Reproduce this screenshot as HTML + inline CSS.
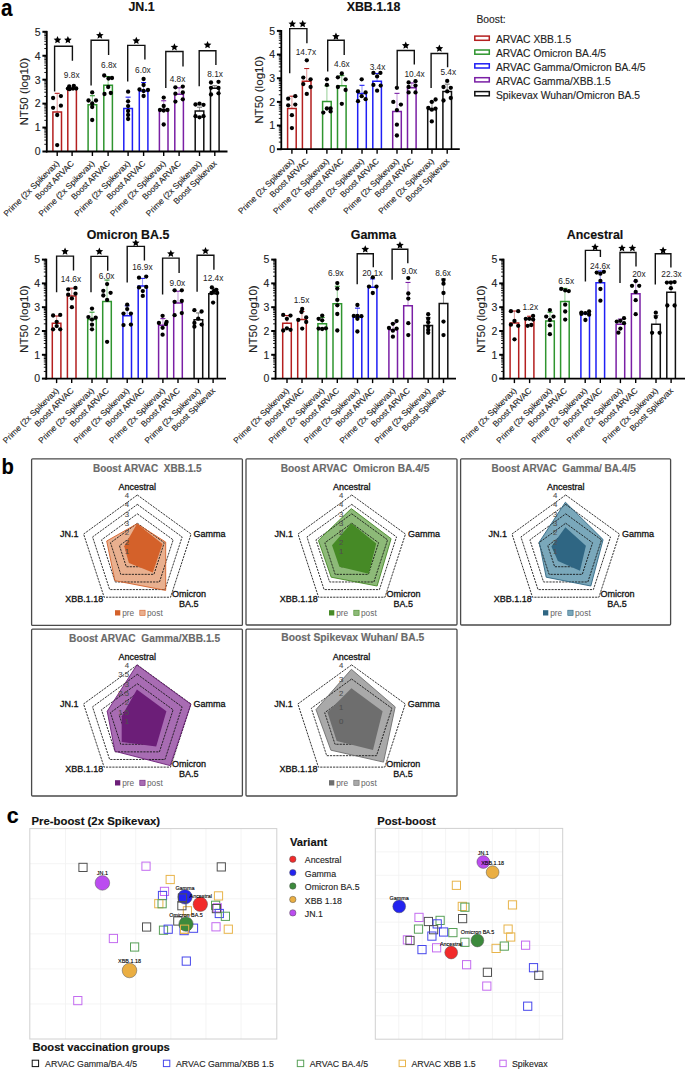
<!DOCTYPE html>
<html><head><meta charset="utf-8"><style>
html,body{margin:0;padding:0;background:#fff;}
svg{display:block;}
svg text{font-family:"Liberation Sans", sans-serif;}
</style></head><body>
<svg width="685" height="1070" viewBox="0 0 685 1070">
<rect width="685" height="1070" fill="#fff"/>
<text x="141.5" y="11.0" font-family="'Liberation Sans', sans-serif" font-size="12.4" font-weight="bold" text-anchor="middle" fill="#111" stroke="#111" stroke-width="0.15">JN.1</text>
<text transform="translate(28.2,91.7) rotate(-90)" font-family="'Liberation Sans', sans-serif" font-size="11.6" text-anchor="middle" fill="#222" stroke="#222" stroke-width="0.12">NT50 (log10)</text>
<line x1="57.20" y1="112.00" x2="57.20" y2="93.33" stroke="#e3a3a3" stroke-width="1.1"/>
<line x1="54.70" y1="93.33" x2="59.70" y2="93.33" stroke="#b41f1f" stroke-width="1.1"/>
<path d="M52.90 151.50 V112.00 H61.50 V151.50" fill="none" stroke="#b41f1f" stroke-width="1.5"/>
<circle cx="53.10" cy="98.00" r="2.15" fill="#000"/>
<circle cx="60.90" cy="96.10" r="2.15" fill="#000"/>
<circle cx="53.10" cy="107.80" r="2.15" fill="#000"/>
<circle cx="60.90" cy="105.70" r="2.15" fill="#000"/>
<circle cx="57.20" cy="115.00" r="2.15" fill="#000"/>
<circle cx="57.20" cy="145.10" r="2.15" fill="#000"/>
<path d="M67.80 151.50 V88.78 H76.40 V151.50" fill="none" stroke="#b41f1f" stroke-width="1.5"/>
<circle cx="69.20" cy="86.50" r="2.15" fill="#000"/>
<circle cx="73.80" cy="85.80" r="2.15" fill="#000"/>
<circle cx="76.20" cy="88.50" r="2.15" fill="#000"/>
<circle cx="69.60" cy="89.20" r="2.15" fill="#000"/>
<circle cx="73.00" cy="88.60" r="2.15" fill="#000"/>
<circle cx="67.90" cy="88.60" r="2.15" fill="#000"/>
<path d="M54.60 91.40 V46.20 H72.40 V60.80" fill="none" stroke="#111" stroke-width="1.4"/>
<polygon points="57.50,36.10 58.61,38.58 61.30,38.86 59.29,40.68 59.85,43.34 57.50,41.98 55.15,43.34 55.71,40.68 53.70,38.86 56.39,38.58" fill="#000"/>
<polygon points="67.90,36.10 69.01,38.58 71.70,38.86 69.69,40.68 70.25,43.34 67.90,41.98 65.55,43.34 66.11,40.68 64.10,38.86 66.79,38.58" fill="#000"/>
<text x="71.7" y="77.5" font-family="'Liberation Sans', sans-serif" font-size="8.3" text-anchor="middle" fill="#222">9.8x</text>
<line x1="92.40" y1="104.82" x2="92.40" y2="95.72" stroke="#9fd39f" stroke-width="1.1"/>
<line x1="89.90" y1="95.72" x2="94.90" y2="95.72" stroke="#2f952f" stroke-width="1.1"/>
<path d="M88.10 151.50 V104.82 H96.70 V151.50" fill="none" stroke="#2f952f" stroke-width="1.5"/>
<circle cx="92.20" cy="92.40" r="2.15" fill="#000"/>
<circle cx="88.50" cy="100.50" r="2.15" fill="#000"/>
<circle cx="96.00" cy="100.50" r="2.15" fill="#000"/>
<circle cx="92.20" cy="103.50" r="2.15" fill="#000"/>
<circle cx="92.20" cy="107.00" r="2.15" fill="#000"/>
<circle cx="92.20" cy="120.00" r="2.15" fill="#000"/>
<line x1="108.10" y1="85.19" x2="108.10" y2="76.57" stroke="#9fd39f" stroke-width="1.1"/>
<line x1="105.60" y1="76.57" x2="110.60" y2="76.57" stroke="#2f952f" stroke-width="1.1"/>
<path d="M103.80 151.50 V85.19 H112.40 V151.50" fill="none" stroke="#2f952f" stroke-width="1.5"/>
<circle cx="104.20" cy="75.50" r="2.15" fill="#000"/>
<circle cx="108.50" cy="78.50" r="2.15" fill="#000"/>
<circle cx="112.00" cy="78.00" r="2.15" fill="#000"/>
<circle cx="108.20" cy="87.00" r="2.15" fill="#000"/>
<circle cx="104.50" cy="94.00" r="2.15" fill="#000"/>
<circle cx="110.80" cy="93.00" r="2.15" fill="#000"/>
<path d="M91.10 85.60 V40.30 H108.60 V54.90" fill="none" stroke="#111" stroke-width="1.4"/>
<polygon points="99.85,31.40 100.96,33.88 103.65,34.16 101.64,35.98 102.20,38.64 99.85,37.28 97.50,38.64 98.06,35.98 96.05,34.16 98.74,33.88" fill="#000"/>
<text x="108.9" y="68.0" font-family="'Liberation Sans', sans-serif" font-size="8.3" text-anchor="middle" fill="#222">6.8x</text>
<line x1="128.10" y1="108.41" x2="128.10" y2="97.16" stroke="#9f9ff8" stroke-width="1.1"/>
<line x1="125.60" y1="97.16" x2="130.60" y2="97.16" stroke="#1f1ff5" stroke-width="1.1"/>
<path d="M123.80 151.50 V108.41 H132.40 V151.50" fill="none" stroke="#1f1ff5" stroke-width="1.5"/>
<circle cx="128.10" cy="91.70" r="2.15" fill="#000"/>
<circle cx="128.10" cy="101.30" r="2.15" fill="#000"/>
<circle cx="128.10" cy="106.10" r="2.15" fill="#000"/>
<circle cx="128.10" cy="111.00" r="2.15" fill="#000"/>
<circle cx="128.10" cy="115.00" r="2.15" fill="#000"/>
<circle cx="128.10" cy="119.00" r="2.15" fill="#000"/>
<line x1="143.60" y1="90.93" x2="143.60" y2="82.55" stroke="#9f9ff8" stroke-width="1.1"/>
<line x1="141.10" y1="82.55" x2="146.10" y2="82.55" stroke="#1f1ff5" stroke-width="1.1"/>
<path d="M139.30 151.50 V90.93 H147.90 V151.50" fill="none" stroke="#1f1ff5" stroke-width="1.5"/>
<circle cx="143.60" cy="79.00" r="2.15" fill="#000"/>
<circle cx="143.60" cy="85.00" r="2.15" fill="#000"/>
<circle cx="139.50" cy="89.50" r="2.15" fill="#000"/>
<circle cx="148.00" cy="90.00" r="2.15" fill="#000"/>
<circle cx="143.60" cy="91.00" r="2.15" fill="#000"/>
<circle cx="143.60" cy="96.00" r="2.15" fill="#000"/>
<path d="M127.70 81.50 V45.40 H144.90 V59.50" fill="none" stroke="#111" stroke-width="1.4"/>
<polygon points="136.30,36.80 137.41,39.28 140.10,39.56 138.09,41.38 138.65,44.04 136.30,42.68 133.95,44.04 134.51,41.38 132.50,39.56 135.19,39.28" fill="#000"/>
<text x="142.9" y="73.3" font-family="'Liberation Sans', sans-serif" font-size="8.3" text-anchor="middle" fill="#222">6.0x</text>
<line x1="163.70" y1="109.84" x2="163.70" y2="100.75" stroke="#c9a0dd" stroke-width="1.1"/>
<line x1="161.20" y1="100.75" x2="166.20" y2="100.75" stroke="#7a1fa5" stroke-width="1.1"/>
<path d="M159.40 151.50 V109.84 H168.00 V151.50" fill="none" stroke="#7a1fa5" stroke-width="1.5"/>
<circle cx="163.70" cy="97.60" r="2.15" fill="#000"/>
<circle cx="160.00" cy="110.00" r="2.15" fill="#000"/>
<circle cx="167.50" cy="110.00" r="2.15" fill="#000"/>
<circle cx="163.70" cy="106.00" r="2.15" fill="#000"/>
<circle cx="163.70" cy="110.50" r="2.15" fill="#000"/>
<circle cx="163.70" cy="124.50" r="2.15" fill="#000"/>
<line x1="179.10" y1="94.28" x2="179.10" y2="87.82" stroke="#c9a0dd" stroke-width="1.1"/>
<line x1="176.60" y1="87.82" x2="181.60" y2="87.82" stroke="#7a1fa5" stroke-width="1.1"/>
<path d="M174.80 151.50 V94.28 H183.40 V151.50" fill="none" stroke="#7a1fa5" stroke-width="1.5"/>
<circle cx="175.40" cy="87.30" r="2.15" fill="#000"/>
<circle cx="182.80" cy="86.60" r="2.15" fill="#000"/>
<circle cx="175.40" cy="93.70" r="2.15" fill="#000"/>
<circle cx="182.80" cy="92.50" r="2.15" fill="#000"/>
<circle cx="175.40" cy="101.60" r="2.15" fill="#000"/>
<circle cx="182.80" cy="99.30" r="2.15" fill="#000"/>
<path d="M165.80 88.00 V51.50 H183.00 V66.40" fill="none" stroke="#111" stroke-width="1.4"/>
<polygon points="174.40,43.20 175.51,45.68 178.20,45.96 176.19,47.78 176.75,50.44 174.40,49.08 172.05,50.44 172.61,47.78 170.60,45.96 173.29,45.68" fill="#000"/>
<text x="177.5" y="82.2" font-family="'Liberation Sans', sans-serif" font-size="8.3" text-anchor="middle" fill="#222">4.8x</text>
<line x1="199.50" y1="111.04" x2="199.50" y2="107.21" stroke="#999999" stroke-width="1.1"/>
<line x1="197.00" y1="107.21" x2="202.00" y2="107.21" stroke="#777" stroke-width="1.1"/>
<path d="M195.20 151.50 V111.04 H203.80 V151.50" fill="none" stroke="#111111" stroke-width="1.5"/>
<circle cx="195.50" cy="104.50" r="2.15" fill="#000"/>
<circle cx="199.50" cy="103.70" r="2.15" fill="#000"/>
<circle cx="203.50" cy="104.80" r="2.15" fill="#000"/>
<circle cx="195.50" cy="116.20" r="2.15" fill="#000"/>
<circle cx="199.50" cy="117.30" r="2.15" fill="#000"/>
<circle cx="203.50" cy="116.20" r="2.15" fill="#000"/>
<line x1="214.80" y1="88.30" x2="214.80" y2="85.66" stroke="#999999" stroke-width="1.1"/>
<line x1="212.30" y1="85.66" x2="217.30" y2="85.66" stroke="#777" stroke-width="1.1"/>
<path d="M210.50 151.50 V88.30 H219.10 V151.50" fill="none" stroke="#111111" stroke-width="1.5"/>
<circle cx="211.00" cy="82.50" r="2.15" fill="#000"/>
<circle cx="218.50" cy="81.80" r="2.15" fill="#000"/>
<circle cx="211.00" cy="87.80" r="2.15" fill="#000"/>
<circle cx="218.50" cy="88.00" r="2.15" fill="#000"/>
<circle cx="211.00" cy="94.50" r="2.15" fill="#000"/>
<circle cx="218.50" cy="93.30" r="2.15" fill="#000"/>
<path d="M199.20 86.30 V50.70 H215.90 V65.10" fill="none" stroke="#111" stroke-width="1.4"/>
<polygon points="207.55,41.10 208.66,43.58 211.35,43.86 209.34,45.68 209.90,48.34 207.55,46.98 205.20,48.34 205.76,45.68 203.75,43.86 206.44,43.58" fill="#000"/>
<text x="215.1" y="76.9" font-family="'Liberation Sans', sans-serif" font-size="8.3" text-anchor="middle" fill="#222">8.1x</text>
<line x1="46.80" y1="30.90" x2="46.80" y2="152.40" stroke="#000" stroke-width="1.8"/>
<line x1="45.90" y1="151.50" x2="227.50" y2="151.50" stroke="#000" stroke-width="1.8"/>
<line x1="42.40" y1="151.50" x2="46.80" y2="151.50" stroke="#000" stroke-width="2.0"/>
<text x="40.5" y="155.3" font-family="'Liberation Sans', sans-serif" font-size="10.5" text-anchor="end" fill="#222" stroke="#222" stroke-width="0.12">0</text>
<line x1="44.30" y1="144.29" x2="46.80" y2="144.29" stroke="#000" stroke-width="0.9"/>
<line x1="44.30" y1="140.08" x2="46.80" y2="140.08" stroke="#000" stroke-width="0.9"/>
<line x1="44.30" y1="137.09" x2="46.80" y2="137.09" stroke="#000" stroke-width="0.9"/>
<line x1="44.30" y1="134.77" x2="46.80" y2="134.77" stroke="#000" stroke-width="0.9"/>
<line x1="44.30" y1="132.87" x2="46.80" y2="132.87" stroke="#000" stroke-width="0.9"/>
<line x1="44.30" y1="131.27" x2="46.80" y2="131.27" stroke="#000" stroke-width="0.9"/>
<line x1="44.30" y1="129.88" x2="46.80" y2="129.88" stroke="#000" stroke-width="0.9"/>
<line x1="44.30" y1="128.66" x2="46.80" y2="128.66" stroke="#000" stroke-width="0.9"/>
<line x1="42.40" y1="127.56" x2="46.80" y2="127.56" stroke="#000" stroke-width="2.0"/>
<text x="40.5" y="131.4" font-family="'Liberation Sans', sans-serif" font-size="10.5" text-anchor="end" fill="#222" stroke="#222" stroke-width="0.12">1</text>
<line x1="44.30" y1="120.35" x2="46.80" y2="120.35" stroke="#000" stroke-width="0.9"/>
<line x1="44.30" y1="116.14" x2="46.80" y2="116.14" stroke="#000" stroke-width="0.9"/>
<line x1="44.30" y1="113.15" x2="46.80" y2="113.15" stroke="#000" stroke-width="0.9"/>
<line x1="44.30" y1="110.83" x2="46.80" y2="110.83" stroke="#000" stroke-width="0.9"/>
<line x1="44.30" y1="108.93" x2="46.80" y2="108.93" stroke="#000" stroke-width="0.9"/>
<line x1="44.30" y1="107.33" x2="46.80" y2="107.33" stroke="#000" stroke-width="0.9"/>
<line x1="44.30" y1="105.94" x2="46.80" y2="105.94" stroke="#000" stroke-width="0.9"/>
<line x1="44.30" y1="104.72" x2="46.80" y2="104.72" stroke="#000" stroke-width="0.9"/>
<line x1="42.40" y1="103.62" x2="46.80" y2="103.62" stroke="#000" stroke-width="2.0"/>
<text x="40.5" y="107.4" font-family="'Liberation Sans', sans-serif" font-size="10.5" text-anchor="end" fill="#222" stroke="#222" stroke-width="0.12">2</text>
<line x1="44.30" y1="96.41" x2="46.80" y2="96.41" stroke="#000" stroke-width="0.9"/>
<line x1="44.30" y1="92.20" x2="46.80" y2="92.20" stroke="#000" stroke-width="0.9"/>
<line x1="44.30" y1="89.21" x2="46.80" y2="89.21" stroke="#000" stroke-width="0.9"/>
<line x1="44.30" y1="86.89" x2="46.80" y2="86.89" stroke="#000" stroke-width="0.9"/>
<line x1="44.30" y1="84.99" x2="46.80" y2="84.99" stroke="#000" stroke-width="0.9"/>
<line x1="44.30" y1="83.39" x2="46.80" y2="83.39" stroke="#000" stroke-width="0.9"/>
<line x1="44.30" y1="82.00" x2="46.80" y2="82.00" stroke="#000" stroke-width="0.9"/>
<line x1="44.30" y1="80.78" x2="46.80" y2="80.78" stroke="#000" stroke-width="0.9"/>
<line x1="42.40" y1="79.68" x2="46.80" y2="79.68" stroke="#000" stroke-width="2.0"/>
<text x="40.5" y="83.5" font-family="'Liberation Sans', sans-serif" font-size="10.5" text-anchor="end" fill="#222" stroke="#222" stroke-width="0.12">3</text>
<line x1="44.30" y1="72.47" x2="46.80" y2="72.47" stroke="#000" stroke-width="0.9"/>
<line x1="44.30" y1="68.26" x2="46.80" y2="68.26" stroke="#000" stroke-width="0.9"/>
<line x1="44.30" y1="65.27" x2="46.80" y2="65.27" stroke="#000" stroke-width="0.9"/>
<line x1="44.30" y1="62.95" x2="46.80" y2="62.95" stroke="#000" stroke-width="0.9"/>
<line x1="44.30" y1="61.05" x2="46.80" y2="61.05" stroke="#000" stroke-width="0.9"/>
<line x1="44.30" y1="59.45" x2="46.80" y2="59.45" stroke="#000" stroke-width="0.9"/>
<line x1="44.30" y1="58.06" x2="46.80" y2="58.06" stroke="#000" stroke-width="0.9"/>
<line x1="44.30" y1="56.84" x2="46.80" y2="56.84" stroke="#000" stroke-width="0.9"/>
<line x1="42.40" y1="55.74" x2="46.80" y2="55.74" stroke="#000" stroke-width="2.0"/>
<text x="40.5" y="59.5" font-family="'Liberation Sans', sans-serif" font-size="10.5" text-anchor="end" fill="#222" stroke="#222" stroke-width="0.12">4</text>
<line x1="44.30" y1="48.53" x2="46.80" y2="48.53" stroke="#000" stroke-width="0.9"/>
<line x1="44.30" y1="44.32" x2="46.80" y2="44.32" stroke="#000" stroke-width="0.9"/>
<line x1="44.30" y1="41.33" x2="46.80" y2="41.33" stroke="#000" stroke-width="0.9"/>
<line x1="44.30" y1="39.01" x2="46.80" y2="39.01" stroke="#000" stroke-width="0.9"/>
<line x1="44.30" y1="37.11" x2="46.80" y2="37.11" stroke="#000" stroke-width="0.9"/>
<line x1="44.30" y1="35.51" x2="46.80" y2="35.51" stroke="#000" stroke-width="0.9"/>
<line x1="44.30" y1="34.12" x2="46.80" y2="34.12" stroke="#000" stroke-width="0.9"/>
<line x1="44.30" y1="32.90" x2="46.80" y2="32.90" stroke="#000" stroke-width="0.9"/>
<line x1="42.40" y1="31.80" x2="46.80" y2="31.80" stroke="#000" stroke-width="2.0"/>
<text x="40.5" y="35.6" font-family="'Liberation Sans', sans-serif" font-size="10.5" text-anchor="end" fill="#222" stroke="#222" stroke-width="0.12">5</text>
<line x1="57.20" y1="151.50" x2="57.20" y2="156.00" stroke="#000" stroke-width="1.4"/>
<text transform="translate(59.70,164.10) rotate(-45)" font-family="'Liberation Sans', sans-serif" font-size="8.35" text-anchor="end" fill="#222" stroke="#222" stroke-width="0.12">Prime (2x Spikevax)</text>
<line x1="72.10" y1="151.50" x2="72.10" y2="156.00" stroke="#000" stroke-width="1.4"/>
<text transform="translate(74.60,164.10) rotate(-45)" font-family="'Liberation Sans', sans-serif" font-size="8.35" text-anchor="end" fill="#222" stroke="#222" stroke-width="0.12">Boost ARVAC</text>
<line x1="92.40" y1="151.50" x2="92.40" y2="156.00" stroke="#000" stroke-width="1.4"/>
<text transform="translate(94.90,164.10) rotate(-45)" font-family="'Liberation Sans', sans-serif" font-size="8.35" text-anchor="end" fill="#222" stroke="#222" stroke-width="0.12">Prime (2x Spikevax)</text>
<line x1="108.10" y1="151.50" x2="108.10" y2="156.00" stroke="#000" stroke-width="1.4"/>
<text transform="translate(110.60,164.10) rotate(-45)" font-family="'Liberation Sans', sans-serif" font-size="8.35" text-anchor="end" fill="#222" stroke="#222" stroke-width="0.12">Boost ARVAC</text>
<line x1="128.10" y1="151.50" x2="128.10" y2="156.00" stroke="#000" stroke-width="1.4"/>
<text transform="translate(130.60,164.10) rotate(-45)" font-family="'Liberation Sans', sans-serif" font-size="8.35" text-anchor="end" fill="#222" stroke="#222" stroke-width="0.12">Prime (2x Spikevax)</text>
<line x1="143.60" y1="151.50" x2="143.60" y2="156.00" stroke="#000" stroke-width="1.4"/>
<text transform="translate(146.10,164.10) rotate(-45)" font-family="'Liberation Sans', sans-serif" font-size="8.35" text-anchor="end" fill="#222" stroke="#222" stroke-width="0.12">Boost ARVAC</text>
<line x1="163.70" y1="151.50" x2="163.70" y2="156.00" stroke="#000" stroke-width="1.4"/>
<text transform="translate(166.20,164.10) rotate(-45)" font-family="'Liberation Sans', sans-serif" font-size="8.35" text-anchor="end" fill="#222" stroke="#222" stroke-width="0.12">Prime (2x Spikevax)</text>
<line x1="179.10" y1="151.50" x2="179.10" y2="156.00" stroke="#000" stroke-width="1.4"/>
<text transform="translate(181.60,164.10) rotate(-45)" font-family="'Liberation Sans', sans-serif" font-size="8.35" text-anchor="end" fill="#222" stroke="#222" stroke-width="0.12">Boost ARVAC</text>
<line x1="199.50" y1="151.50" x2="199.50" y2="156.00" stroke="#000" stroke-width="1.4"/>
<text transform="translate(202.00,164.10) rotate(-45)" font-family="'Liberation Sans', sans-serif" font-size="8.35" text-anchor="end" fill="#222" stroke="#222" stroke-width="0.12">Prime (2x Spikevax)</text>
<line x1="214.80" y1="151.50" x2="214.80" y2="156.00" stroke="#000" stroke-width="1.4"/>
<text transform="translate(217.30,164.10) rotate(-45)" font-family="'Liberation Sans', sans-serif" font-size="8.35" text-anchor="end" fill="#222" stroke="#222" stroke-width="0.12">Boost Spikevax</text>
<text x="373.5" y="11.0" font-family="'Liberation Sans', sans-serif" font-size="12.4" font-weight="bold" text-anchor="middle" fill="#111" stroke="#111" stroke-width="0.15">XBB.1.18</text>
<text transform="translate(262.7,90.0) rotate(-90)" font-family="'Liberation Sans', sans-serif" font-size="11.6" text-anchor="middle" fill="#222" stroke="#222" stroke-width="0.12">NT50 (log10)</text>
<line x1="291.90" y1="108.50" x2="291.90" y2="96.20" stroke="#e3a3a3" stroke-width="1.1"/>
<line x1="289.40" y1="96.20" x2="294.40" y2="96.20" stroke="#b41f1f" stroke-width="1.1"/>
<path d="M287.60 149.20 V108.50 H296.20 V149.20" fill="none" stroke="#b41f1f" stroke-width="1.5"/>
<circle cx="288.20" cy="98.70" r="2.15" fill="#000"/>
<circle cx="295.30" cy="96.20" r="2.15" fill="#000"/>
<circle cx="288.20" cy="105.30" r="2.15" fill="#000"/>
<circle cx="295.30" cy="104.60" r="2.15" fill="#000"/>
<circle cx="291.90" cy="115.20" r="2.15" fill="#000"/>
<circle cx="291.90" cy="128.10" r="2.15" fill="#000"/>
<line x1="306.70" y1="81.30" x2="306.70" y2="68.52" stroke="#e3a3a3" stroke-width="1.1"/>
<line x1="304.20" y1="68.52" x2="309.20" y2="68.52" stroke="#b41f1f" stroke-width="1.1"/>
<path d="M302.40 149.20 V81.30 H311.00 V149.20" fill="none" stroke="#b41f1f" stroke-width="1.5"/>
<circle cx="306.80" cy="60.30" r="2.15" fill="#000"/>
<circle cx="303.30" cy="77.60" r="2.15" fill="#000"/>
<circle cx="310.60" cy="79.30" r="2.15" fill="#000"/>
<circle cx="303.30" cy="84.10" r="2.15" fill="#000"/>
<circle cx="310.60" cy="87.00" r="2.15" fill="#000"/>
<circle cx="306.80" cy="93.90" r="2.15" fill="#000"/>
<path d="M289.70 73.20 V28.60 H306.90 V43.20" fill="none" stroke="#111" stroke-width="1.4"/>
<polygon points="292.30,20.00 293.41,22.48 296.10,22.76 294.09,24.58 294.65,27.24 292.30,25.88 289.95,27.24 290.51,24.58 288.50,22.76 291.19,22.48" fill="#000"/>
<polygon points="302.70,20.00 303.81,22.48 306.50,22.76 304.49,24.58 305.05,27.24 302.70,25.88 300.35,27.24 300.91,24.58 298.90,22.76 301.59,22.48" fill="#000"/>
<text x="305.9" y="54.6" font-family="'Liberation Sans', sans-serif" font-size="8.3" text-anchor="middle" fill="#222">14.7x</text>
<line x1="326.90" y1="101.41" x2="326.90" y2="85.79" stroke="#9fd39f" stroke-width="1.1"/>
<line x1="324.40" y1="85.79" x2="329.40" y2="85.79" stroke="#2f952f" stroke-width="1.1"/>
<path d="M322.60 149.20 V101.41 H331.20 V149.20" fill="none" stroke="#2f952f" stroke-width="1.5"/>
<circle cx="326.90" cy="79.30" r="2.15" fill="#000"/>
<circle cx="326.90" cy="84.90" r="2.15" fill="#000"/>
<circle cx="323.30" cy="112.60" r="2.15" fill="#000"/>
<circle cx="326.90" cy="108.50" r="2.15" fill="#000"/>
<circle cx="330.60" cy="108.50" r="2.15" fill="#000"/>
<circle cx="330.60" cy="111.40" r="2.15" fill="#000"/>
<line x1="341.80" y1="85.79" x2="341.80" y2="75.62" stroke="#9fd39f" stroke-width="1.1"/>
<line x1="339.30" y1="75.62" x2="344.30" y2="75.62" stroke="#2f952f" stroke-width="1.1"/>
<path d="M337.50 149.20 V85.79 H346.10 V149.20" fill="none" stroke="#2f952f" stroke-width="1.5"/>
<circle cx="341.80" cy="73.50" r="2.15" fill="#000"/>
<circle cx="337.90" cy="77.30" r="2.15" fill="#000"/>
<circle cx="345.60" cy="79.30" r="2.15" fill="#000"/>
<circle cx="337.90" cy="87.00" r="2.15" fill="#000"/>
<circle cx="345.60" cy="90.00" r="2.15" fill="#000"/>
<circle cx="341.80" cy="103.80" r="2.15" fill="#000"/>
<path d="M327.70 71.40 V40.30 H344.20 V54.90" fill="none" stroke="#111" stroke-width="1.4"/>
<polygon points="335.95,32.50 337.06,34.98 339.75,35.26 337.74,37.08 338.30,39.74 335.95,38.38 333.60,39.74 334.16,37.08 332.15,35.26 334.84,34.98" fill="#000"/>
<text x="341.9" y="66.9" font-family="'Liberation Sans', sans-serif" font-size="8.3" text-anchor="middle" fill="#222">4.6x</text>
<line x1="362.00" y1="93.60" x2="362.00" y2="85.32" stroke="#9f9ff8" stroke-width="1.1"/>
<line x1="359.50" y1="85.32" x2="364.50" y2="85.32" stroke="#1f1ff5" stroke-width="1.1"/>
<path d="M357.70 149.20 V93.60 H366.30 V149.20" fill="none" stroke="#1f1ff5" stroke-width="1.5"/>
<circle cx="361.70" cy="79.30" r="2.15" fill="#000"/>
<circle cx="358.00" cy="91.40" r="2.15" fill="#000"/>
<circle cx="365.60" cy="92.40" r="2.15" fill="#000"/>
<circle cx="361.70" cy="96.20" r="2.15" fill="#000"/>
<circle cx="358.00" cy="101.20" r="2.15" fill="#000"/>
<circle cx="365.60" cy="99.20" r="2.15" fill="#000"/>
<line x1="377.10" y1="81.30" x2="377.10" y2="73.49" stroke="#9f9ff8" stroke-width="1.1"/>
<line x1="374.60" y1="73.49" x2="379.60" y2="73.49" stroke="#1f1ff5" stroke-width="1.1"/>
<path d="M372.80 149.20 V81.30 H381.40 V149.20" fill="none" stroke="#1f1ff5" stroke-width="1.5"/>
<circle cx="373.40" cy="72.90" r="2.15" fill="#000"/>
<circle cx="380.40" cy="72.90" r="2.15" fill="#000"/>
<circle cx="377.10" cy="76.40" r="2.15" fill="#000"/>
<circle cx="373.40" cy="84.90" r="2.15" fill="#000"/>
<circle cx="380.70" cy="85.60" r="2.15" fill="#000"/>
<circle cx="377.10" cy="90.70" r="2.15" fill="#000"/>
<text x="377.5" y="69.5" font-family="'Liberation Sans', sans-serif" font-size="8.3" text-anchor="middle" fill="#222">3.4x</text>
<line x1="397.00" y1="111.58" x2="397.00" y2="93.36" stroke="#c9a0dd" stroke-width="1.1"/>
<line x1="394.50" y1="93.36" x2="399.50" y2="93.36" stroke="#7a1fa5" stroke-width="1.1"/>
<path d="M392.70 149.20 V111.58 H401.30 V149.20" fill="none" stroke="#7a1fa5" stroke-width="1.5"/>
<circle cx="396.90" cy="87.80" r="2.15" fill="#000"/>
<circle cx="393.30" cy="101.90" r="2.15" fill="#000"/>
<circle cx="400.90" cy="104.60" r="2.15" fill="#000"/>
<circle cx="396.90" cy="110.10" r="2.15" fill="#000"/>
<circle cx="396.90" cy="124.70" r="2.15" fill="#000"/>
<circle cx="396.90" cy="135.50" r="2.15" fill="#000"/>
<line x1="411.80" y1="87.68" x2="411.80" y2="82.95" stroke="#c9a0dd" stroke-width="1.1"/>
<line x1="409.30" y1="82.95" x2="414.30" y2="82.95" stroke="#7a1fa5" stroke-width="1.1"/>
<path d="M407.50 149.20 V87.68 H416.10 V149.20" fill="none" stroke="#7a1fa5" stroke-width="1.5"/>
<circle cx="408.60" cy="82.40" r="2.15" fill="#000"/>
<circle cx="415.50" cy="81.20" r="2.15" fill="#000"/>
<circle cx="408.60" cy="87.00" r="2.15" fill="#000"/>
<circle cx="415.50" cy="85.60" r="2.15" fill="#000"/>
<circle cx="408.60" cy="92.40" r="2.15" fill="#000"/>
<circle cx="415.50" cy="92.40" r="2.15" fill="#000"/>
<path d="M397.20 87.80 V50.50 H414.30 V64.40" fill="none" stroke="#111" stroke-width="1.4"/>
<polygon points="405.75,41.60 406.86,44.08 409.55,44.36 407.54,46.18 408.10,48.84 405.75,47.48 403.40,48.84 403.96,46.18 401.95,44.36 404.64,44.08" fill="#000"/>
<text x="414.6" y="77.1" font-family="'Liberation Sans', sans-serif" font-size="8.3" text-anchor="middle" fill="#222">10.4x</text>
<line x1="432.00" y1="109.45" x2="432.00" y2="101.88" stroke="#999999" stroke-width="1.1"/>
<line x1="429.50" y1="101.88" x2="434.50" y2="101.88" stroke="#777" stroke-width="1.1"/>
<path d="M427.70 149.20 V109.45 H436.30 V149.20" fill="none" stroke="#111111" stroke-width="1.5"/>
<circle cx="435.60" cy="99.50" r="2.15" fill="#000"/>
<circle cx="431.80" cy="101.90" r="2.15" fill="#000"/>
<circle cx="428.30" cy="107.90" r="2.15" fill="#000"/>
<circle cx="435.50" cy="108.60" r="2.15" fill="#000"/>
<circle cx="431.80" cy="109.70" r="2.15" fill="#000"/>
<circle cx="431.80" cy="121.40" r="2.15" fill="#000"/>
<line x1="447.20" y1="91.47" x2="447.20" y2="84.13" stroke="#999999" stroke-width="1.1"/>
<line x1="444.70" y1="84.13" x2="449.70" y2="84.13" stroke="#777" stroke-width="1.1"/>
<path d="M442.90 149.20 V91.47 H451.50 V149.20" fill="none" stroke="#111111" stroke-width="1.5"/>
<circle cx="447.20" cy="80.90" r="2.15" fill="#000"/>
<circle cx="443.50" cy="87.00" r="2.15" fill="#000"/>
<circle cx="450.80" cy="87.80" r="2.15" fill="#000"/>
<circle cx="447.20" cy="91.40" r="2.15" fill="#000"/>
<circle cx="443.50" cy="100.50" r="2.15" fill="#000"/>
<circle cx="450.80" cy="98.00" r="2.15" fill="#000"/>
<path d="M431.10 88.10 V53.50 H447.60 V67.30" fill="none" stroke="#111" stroke-width="1.4"/>
<polygon points="439.35,44.60 440.46,47.08 443.15,47.36 441.14,49.18 441.70,51.84 439.35,50.48 437.00,51.84 437.56,49.18 435.55,47.36 438.24,47.08" fill="#000"/>
<text x="448.3" y="75.3" font-family="'Liberation Sans', sans-serif" font-size="8.3" text-anchor="middle" fill="#222">5.4x</text>
<line x1="281.30" y1="30.00" x2="281.30" y2="150.10" stroke="#000" stroke-width="1.8"/>
<line x1="280.40" y1="149.20" x2="459.80" y2="149.20" stroke="#000" stroke-width="1.8"/>
<line x1="276.90" y1="149.20" x2="281.30" y2="149.20" stroke="#000" stroke-width="2.0"/>
<text x="275.0" y="153.0" font-family="'Liberation Sans', sans-serif" font-size="10.5" text-anchor="end" fill="#222" stroke="#222" stroke-width="0.12">0</text>
<line x1="278.80" y1="142.08" x2="281.30" y2="142.08" stroke="#000" stroke-width="0.9"/>
<line x1="278.80" y1="137.91" x2="281.30" y2="137.91" stroke="#000" stroke-width="0.9"/>
<line x1="278.80" y1="134.96" x2="281.30" y2="134.96" stroke="#000" stroke-width="0.9"/>
<line x1="278.80" y1="132.66" x2="281.30" y2="132.66" stroke="#000" stroke-width="0.9"/>
<line x1="278.80" y1="130.79" x2="281.30" y2="130.79" stroke="#000" stroke-width="0.9"/>
<line x1="278.80" y1="129.20" x2="281.30" y2="129.20" stroke="#000" stroke-width="0.9"/>
<line x1="278.80" y1="127.83" x2="281.30" y2="127.83" stroke="#000" stroke-width="0.9"/>
<line x1="278.80" y1="126.62" x2="281.30" y2="126.62" stroke="#000" stroke-width="0.9"/>
<line x1="276.90" y1="125.54" x2="281.30" y2="125.54" stroke="#000" stroke-width="2.0"/>
<text x="275.0" y="129.3" font-family="'Liberation Sans', sans-serif" font-size="10.5" text-anchor="end" fill="#222" stroke="#222" stroke-width="0.12">1</text>
<line x1="278.80" y1="118.42" x2="281.30" y2="118.42" stroke="#000" stroke-width="0.9"/>
<line x1="278.80" y1="114.25" x2="281.30" y2="114.25" stroke="#000" stroke-width="0.9"/>
<line x1="278.80" y1="111.30" x2="281.30" y2="111.30" stroke="#000" stroke-width="0.9"/>
<line x1="278.80" y1="109.00" x2="281.30" y2="109.00" stroke="#000" stroke-width="0.9"/>
<line x1="278.80" y1="107.13" x2="281.30" y2="107.13" stroke="#000" stroke-width="0.9"/>
<line x1="278.80" y1="105.54" x2="281.30" y2="105.54" stroke="#000" stroke-width="0.9"/>
<line x1="278.80" y1="104.17" x2="281.30" y2="104.17" stroke="#000" stroke-width="0.9"/>
<line x1="278.80" y1="102.96" x2="281.30" y2="102.96" stroke="#000" stroke-width="0.9"/>
<line x1="276.90" y1="101.88" x2="281.30" y2="101.88" stroke="#000" stroke-width="2.0"/>
<text x="275.0" y="105.7" font-family="'Liberation Sans', sans-serif" font-size="10.5" text-anchor="end" fill="#222" stroke="#222" stroke-width="0.12">2</text>
<line x1="278.80" y1="94.76" x2="281.30" y2="94.76" stroke="#000" stroke-width="0.9"/>
<line x1="278.80" y1="90.59" x2="281.30" y2="90.59" stroke="#000" stroke-width="0.9"/>
<line x1="278.80" y1="87.64" x2="281.30" y2="87.64" stroke="#000" stroke-width="0.9"/>
<line x1="278.80" y1="85.34" x2="281.30" y2="85.34" stroke="#000" stroke-width="0.9"/>
<line x1="278.80" y1="83.47" x2="281.30" y2="83.47" stroke="#000" stroke-width="0.9"/>
<line x1="278.80" y1="81.88" x2="281.30" y2="81.88" stroke="#000" stroke-width="0.9"/>
<line x1="278.80" y1="80.51" x2="281.30" y2="80.51" stroke="#000" stroke-width="0.9"/>
<line x1="278.80" y1="79.30" x2="281.30" y2="79.30" stroke="#000" stroke-width="0.9"/>
<line x1="276.90" y1="78.22" x2="281.30" y2="78.22" stroke="#000" stroke-width="2.0"/>
<text x="275.0" y="82.0" font-family="'Liberation Sans', sans-serif" font-size="10.5" text-anchor="end" fill="#222" stroke="#222" stroke-width="0.12">3</text>
<line x1="278.80" y1="71.10" x2="281.30" y2="71.10" stroke="#000" stroke-width="0.9"/>
<line x1="278.80" y1="66.93" x2="281.30" y2="66.93" stroke="#000" stroke-width="0.9"/>
<line x1="278.80" y1="63.98" x2="281.30" y2="63.98" stroke="#000" stroke-width="0.9"/>
<line x1="278.80" y1="61.68" x2="281.30" y2="61.68" stroke="#000" stroke-width="0.9"/>
<line x1="278.80" y1="59.81" x2="281.30" y2="59.81" stroke="#000" stroke-width="0.9"/>
<line x1="278.80" y1="58.22" x2="281.30" y2="58.22" stroke="#000" stroke-width="0.9"/>
<line x1="278.80" y1="56.85" x2="281.30" y2="56.85" stroke="#000" stroke-width="0.9"/>
<line x1="278.80" y1="55.64" x2="281.30" y2="55.64" stroke="#000" stroke-width="0.9"/>
<line x1="276.90" y1="54.56" x2="281.30" y2="54.56" stroke="#000" stroke-width="2.0"/>
<text x="275.0" y="58.4" font-family="'Liberation Sans', sans-serif" font-size="10.5" text-anchor="end" fill="#222" stroke="#222" stroke-width="0.12">4</text>
<line x1="278.80" y1="47.44" x2="281.30" y2="47.44" stroke="#000" stroke-width="0.9"/>
<line x1="278.80" y1="43.27" x2="281.30" y2="43.27" stroke="#000" stroke-width="0.9"/>
<line x1="278.80" y1="40.32" x2="281.30" y2="40.32" stroke="#000" stroke-width="0.9"/>
<line x1="278.80" y1="38.02" x2="281.30" y2="38.02" stroke="#000" stroke-width="0.9"/>
<line x1="278.80" y1="36.15" x2="281.30" y2="36.15" stroke="#000" stroke-width="0.9"/>
<line x1="278.80" y1="34.56" x2="281.30" y2="34.56" stroke="#000" stroke-width="0.9"/>
<line x1="278.80" y1="33.19" x2="281.30" y2="33.19" stroke="#000" stroke-width="0.9"/>
<line x1="278.80" y1="31.98" x2="281.30" y2="31.98" stroke="#000" stroke-width="0.9"/>
<line x1="276.90" y1="30.90" x2="281.30" y2="30.90" stroke="#000" stroke-width="2.0"/>
<text x="275.0" y="34.7" font-family="'Liberation Sans', sans-serif" font-size="10.5" text-anchor="end" fill="#222" stroke="#222" stroke-width="0.12">5</text>
<line x1="291.90" y1="149.20" x2="291.90" y2="153.70" stroke="#000" stroke-width="1.4"/>
<text transform="translate(294.40,161.80) rotate(-45)" font-family="'Liberation Sans', sans-serif" font-size="8.35" text-anchor="end" fill="#222" stroke="#222" stroke-width="0.12">Prime (2x Spikevax)</text>
<line x1="306.70" y1="149.20" x2="306.70" y2="153.70" stroke="#000" stroke-width="1.4"/>
<text transform="translate(309.20,161.80) rotate(-45)" font-family="'Liberation Sans', sans-serif" font-size="8.35" text-anchor="end" fill="#222" stroke="#222" stroke-width="0.12">Boost ARVAC</text>
<line x1="326.90" y1="149.20" x2="326.90" y2="153.70" stroke="#000" stroke-width="1.4"/>
<text transform="translate(329.40,161.80) rotate(-45)" font-family="'Liberation Sans', sans-serif" font-size="8.35" text-anchor="end" fill="#222" stroke="#222" stroke-width="0.12">Prime (2x Spikevax)</text>
<line x1="341.80" y1="149.20" x2="341.80" y2="153.70" stroke="#000" stroke-width="1.4"/>
<text transform="translate(344.30,161.80) rotate(-45)" font-family="'Liberation Sans', sans-serif" font-size="8.35" text-anchor="end" fill="#222" stroke="#222" stroke-width="0.12">Boost ARVAC</text>
<line x1="362.00" y1="149.20" x2="362.00" y2="153.70" stroke="#000" stroke-width="1.4"/>
<text transform="translate(364.50,161.80) rotate(-45)" font-family="'Liberation Sans', sans-serif" font-size="8.35" text-anchor="end" fill="#222" stroke="#222" stroke-width="0.12">Prime (2x Spikevax)</text>
<line x1="377.10" y1="149.20" x2="377.10" y2="153.70" stroke="#000" stroke-width="1.4"/>
<text transform="translate(379.60,161.80) rotate(-45)" font-family="'Liberation Sans', sans-serif" font-size="8.35" text-anchor="end" fill="#222" stroke="#222" stroke-width="0.12">Boost ARVAC</text>
<line x1="397.00" y1="149.20" x2="397.00" y2="153.70" stroke="#000" stroke-width="1.4"/>
<text transform="translate(399.50,161.80) rotate(-45)" font-family="'Liberation Sans', sans-serif" font-size="8.35" text-anchor="end" fill="#222" stroke="#222" stroke-width="0.12">Prime (2x Spikevax)</text>
<line x1="411.80" y1="149.20" x2="411.80" y2="153.70" stroke="#000" stroke-width="1.4"/>
<text transform="translate(414.30,161.80) rotate(-45)" font-family="'Liberation Sans', sans-serif" font-size="8.35" text-anchor="end" fill="#222" stroke="#222" stroke-width="0.12">Boost ARVAC</text>
<line x1="432.00" y1="149.20" x2="432.00" y2="153.70" stroke="#000" stroke-width="1.4"/>
<text transform="translate(434.50,161.80) rotate(-45)" font-family="'Liberation Sans', sans-serif" font-size="8.35" text-anchor="end" fill="#222" stroke="#222" stroke-width="0.12">Prime (2x Spikevax)</text>
<line x1="447.20" y1="149.20" x2="447.20" y2="153.70" stroke="#000" stroke-width="1.4"/>
<text transform="translate(449.70,161.80) rotate(-45)" font-family="'Liberation Sans', sans-serif" font-size="8.35" text-anchor="end" fill="#222" stroke="#222" stroke-width="0.12">Boost Spikevax</text>
<text x="128.0" y="238.5" font-family="'Liberation Sans', sans-serif" font-size="12.4" font-weight="bold" text-anchor="middle" fill="#111" stroke="#111" stroke-width="0.15">Omicron BA.5</text>
<text transform="translate(27.7,319.1) rotate(-90)" font-family="'Liberation Sans', sans-serif" font-size="11.6" text-anchor="middle" fill="#222" stroke="#222" stroke-width="0.12">NT50 (log10)</text>
<line x1="56.60" y1="323.15" x2="56.60" y2="316.01" stroke="#e3a3a3" stroke-width="1.1"/>
<line x1="54.10" y1="316.01" x2="59.10" y2="316.01" stroke="#b41f1f" stroke-width="1.1"/>
<path d="M52.30 378.60 V323.15 H60.90 V378.60" fill="none" stroke="#b41f1f" stroke-width="1.5"/>
<circle cx="53.10" cy="315.50" r="2.15" fill="#000"/>
<circle cx="60.20" cy="314.90" r="2.15" fill="#000"/>
<circle cx="56.70" cy="321.80" r="2.15" fill="#000"/>
<circle cx="56.70" cy="326.10" r="2.15" fill="#000"/>
<circle cx="53.10" cy="329.30" r="2.15" fill="#000"/>
<circle cx="60.20" cy="329.30" r="2.15" fill="#000"/>
<line x1="71.70" y1="296.01" x2="71.70" y2="288.16" stroke="#e3a3a3" stroke-width="1.1"/>
<line x1="69.20" y1="288.16" x2="74.20" y2="288.16" stroke="#b41f1f" stroke-width="1.1"/>
<path d="M67.40 378.60 V296.01 H76.00 V378.60" fill="none" stroke="#b41f1f" stroke-width="1.5"/>
<circle cx="68.20" cy="289.30" r="2.15" fill="#000"/>
<circle cx="75.50" cy="287.90" r="2.15" fill="#000"/>
<circle cx="68.20" cy="294.70" r="2.15" fill="#000"/>
<circle cx="75.50" cy="293.70" r="2.15" fill="#000"/>
<circle cx="71.90" cy="298.40" r="2.15" fill="#000"/>
<circle cx="71.90" cy="307.20" r="2.15" fill="#000"/>
<path d="M56.60 292.30 V256.10 H73.50 V270.40" fill="none" stroke="#111" stroke-width="1.4"/>
<polygon points="65.05,247.50 66.16,249.98 68.85,250.26 66.84,252.08 67.40,254.74 65.05,253.38 62.70,254.74 63.26,252.08 61.25,250.26 63.94,249.98" fill="#000"/>
<text x="70.9" y="281.6" font-family="'Liberation Sans', sans-serif" font-size="8.3" text-anchor="middle" fill="#222">14.6x</text>
<line x1="92.00" y1="319.58" x2="92.00" y2="312.20" stroke="#9fd39f" stroke-width="1.1"/>
<line x1="89.50" y1="312.20" x2="94.50" y2="312.20" stroke="#2f952f" stroke-width="1.1"/>
<path d="M87.70 378.60 V319.58 H96.30 V378.60" fill="none" stroke="#2f952f" stroke-width="1.5"/>
<circle cx="92.00" cy="308.60" r="2.15" fill="#000"/>
<circle cx="88.40" cy="317.10" r="2.15" fill="#000"/>
<circle cx="95.70" cy="317.70" r="2.15" fill="#000"/>
<circle cx="92.00" cy="319.60" r="2.15" fill="#000"/>
<circle cx="92.00" cy="324.70" r="2.15" fill="#000"/>
<circle cx="92.00" cy="329.30" r="2.15" fill="#000"/>
<line x1="107.00" y1="301.49" x2="107.00" y2="280.07" stroke="#9fd39f" stroke-width="1.1"/>
<line x1="104.50" y1="280.07" x2="109.50" y2="280.07" stroke="#2f952f" stroke-width="1.1"/>
<path d="M102.70 378.60 V301.49 H111.30 V378.60" fill="none" stroke="#2f952f" stroke-width="1.5"/>
<circle cx="107.10" cy="284.10" r="2.15" fill="#000"/>
<circle cx="103.30" cy="290.80" r="2.15" fill="#000"/>
<circle cx="110.60" cy="292.80" r="2.15" fill="#000"/>
<circle cx="103.30" cy="295.50" r="2.15" fill="#000"/>
<circle cx="107.10" cy="299.90" r="2.15" fill="#000"/>
<circle cx="107.10" cy="341.80" r="2.15" fill="#000"/>
<path d="M91.00 292.30 V256.40 H107.70 V270.70" fill="none" stroke="#111" stroke-width="1.4"/>
<polygon points="99.35,247.50 100.46,249.98 103.15,250.26 101.14,252.08 101.70,254.74 99.35,253.38 97.00,254.74 97.56,252.08 95.55,250.26 98.24,249.98" fill="#000"/>
<text x="106.6" y="278.7" font-family="'Liberation Sans', sans-serif" font-size="8.3" text-anchor="middle" fill="#222">6.0x</text>
<line x1="127.20" y1="315.77" x2="127.20" y2="305.77" stroke="#9f9ff8" stroke-width="1.1"/>
<line x1="124.70" y1="305.77" x2="129.70" y2="305.77" stroke="#1f1ff5" stroke-width="1.1"/>
<path d="M122.90 378.60 V315.77 H131.50 V378.60" fill="none" stroke="#1f1ff5" stroke-width="1.5"/>
<circle cx="127.20" cy="304.70" r="2.15" fill="#000"/>
<circle cx="123.50" cy="313.60" r="2.15" fill="#000"/>
<circle cx="130.90" cy="313.60" r="2.15" fill="#000"/>
<circle cx="127.20" cy="309.10" r="2.15" fill="#000"/>
<circle cx="123.50" cy="325.10" r="2.15" fill="#000"/>
<circle cx="130.90" cy="324.60" r="2.15" fill="#000"/>
<line x1="142.50" y1="286.02" x2="142.50" y2="278.40" stroke="#9f9ff8" stroke-width="1.1"/>
<line x1="140.00" y1="278.40" x2="145.00" y2="278.40" stroke="#1f1ff5" stroke-width="1.1"/>
<path d="M138.20 378.60 V286.02 H146.80 V378.60" fill="none" stroke="#1f1ff5" stroke-width="1.5"/>
<circle cx="139.00" cy="277.70" r="2.15" fill="#000"/>
<circle cx="146.20" cy="276.60" r="2.15" fill="#000"/>
<circle cx="139.00" cy="287.40" r="2.15" fill="#000"/>
<circle cx="146.20" cy="286.90" r="2.15" fill="#000"/>
<circle cx="142.80" cy="291.10" r="2.15" fill="#000"/>
<circle cx="142.80" cy="295.90" r="2.15" fill="#000"/>
<path d="M127.20 282.60 V246.40 H144.40 V260.40" fill="none" stroke="#111" stroke-width="1.4"/>
<polygon points="135.80,238.90 136.91,241.38 139.60,241.66 137.59,243.48 138.15,246.14 135.80,244.78 133.45,246.14 134.01,243.48 132.00,241.66 134.69,241.38" fill="#000"/>
<text x="142.4" y="269.9" font-family="'Liberation Sans', sans-serif" font-size="8.3" text-anchor="middle" fill="#222">16.9x</text>
<line x1="162.90" y1="325.29" x2="162.90" y2="318.62" stroke="#c9a0dd" stroke-width="1.1"/>
<line x1="160.40" y1="318.62" x2="165.40" y2="318.62" stroke="#7a1fa5" stroke-width="1.1"/>
<path d="M158.60 378.60 V325.29 H167.20 V378.60" fill="none" stroke="#7a1fa5" stroke-width="1.5"/>
<circle cx="162.60" cy="315.80" r="2.15" fill="#000"/>
<circle cx="158.90" cy="323.00" r="2.15" fill="#000"/>
<circle cx="166.60" cy="321.90" r="2.15" fill="#000"/>
<circle cx="162.60" cy="327.80" r="2.15" fill="#000"/>
<circle cx="162.60" cy="334.70" r="2.15" fill="#000"/>
<circle cx="166.00" cy="324.00" r="2.15" fill="#000"/>
<line x1="178.00" y1="302.92" x2="178.00" y2="291.25" stroke="#c9a0dd" stroke-width="1.1"/>
<line x1="175.50" y1="291.25" x2="180.50" y2="291.25" stroke="#7a1fa5" stroke-width="1.1"/>
<path d="M173.70 378.60 V302.92 H182.30 V378.60" fill="none" stroke="#7a1fa5" stroke-width="1.5"/>
<circle cx="174.60" cy="290.30" r="2.15" fill="#000"/>
<circle cx="181.80" cy="290.30" r="2.15" fill="#000"/>
<circle cx="174.60" cy="301.80" r="2.15" fill="#000"/>
<circle cx="181.80" cy="301.00" r="2.15" fill="#000"/>
<circle cx="174.60" cy="315.20" r="2.15" fill="#000"/>
<circle cx="181.80" cy="313.10" r="2.15" fill="#000"/>
<path d="M162.60 294.60 V258.10 H179.10 V272.90" fill="none" stroke="#111" stroke-width="1.4"/>
<polygon points="170.85,249.70 171.96,252.18 174.65,252.46 172.64,254.28 173.20,256.94 170.85,255.58 168.50,256.94 169.06,254.28 167.05,252.46 169.74,252.18" fill="#000"/>
<text x="177.4" y="285.5" font-family="'Liberation Sans', sans-serif" font-size="8.3" text-anchor="middle" fill="#222">9.0x</text>
<line x1="198.40" y1="319.81" x2="198.40" y2="312.91" stroke="#999999" stroke-width="1.1"/>
<line x1="195.90" y1="312.91" x2="200.90" y2="312.91" stroke="#777" stroke-width="1.1"/>
<path d="M194.10 378.60 V319.81 H202.70 V378.60" fill="none" stroke="#111111" stroke-width="1.5"/>
<circle cx="194.40" cy="310.20" r="2.15" fill="#000"/>
<circle cx="201.60" cy="311.50" r="2.15" fill="#000"/>
<circle cx="198.20" cy="318.70" r="2.15" fill="#000"/>
<circle cx="194.40" cy="323.00" r="2.15" fill="#000"/>
<circle cx="201.60" cy="324.60" r="2.15" fill="#000"/>
<circle cx="194.40" cy="326.70" r="2.15" fill="#000"/>
<line x1="213.10" y1="293.63" x2="213.10" y2="288.16" stroke="#999999" stroke-width="1.1"/>
<line x1="210.60" y1="288.16" x2="215.60" y2="288.16" stroke="#777" stroke-width="1.1"/>
<path d="M208.80 378.60 V293.63 H217.40 V378.60" fill="none" stroke="#111111" stroke-width="1.5"/>
<circle cx="211.90" cy="287.40" r="2.15" fill="#000"/>
<circle cx="216.40" cy="289.80" r="2.15" fill="#000"/>
<circle cx="211.50" cy="293.00" r="2.15" fill="#000"/>
<circle cx="217.20" cy="293.00" r="2.15" fill="#000"/>
<circle cx="213.10" cy="302.60" r="2.15" fill="#000"/>
<circle cx="214.00" cy="291.00" r="2.15" fill="#000"/>
<path d="M197.10 291.70 V255.30 H213.90 V269.70" fill="none" stroke="#111" stroke-width="1.4"/>
<polygon points="205.50,246.90 206.61,249.38 209.30,249.66 207.29,251.48 207.85,254.14 205.50,252.78 203.15,254.14 203.71,251.48 201.70,249.66 204.39,249.38" fill="#000"/>
<text x="213.2" y="280.9" font-family="'Liberation Sans', sans-serif" font-size="8.3" text-anchor="middle" fill="#222">12.4x</text>
<line x1="46.30" y1="258.70" x2="46.30" y2="379.50" stroke="#000" stroke-width="1.8"/>
<line x1="45.40" y1="378.60" x2="226.00" y2="378.60" stroke="#000" stroke-width="1.8"/>
<line x1="41.90" y1="378.60" x2="46.30" y2="378.60" stroke="#000" stroke-width="2.0"/>
<text x="40.0" y="382.4" font-family="'Liberation Sans', sans-serif" font-size="10.5" text-anchor="end" fill="#222" stroke="#222" stroke-width="0.12">0</text>
<line x1="43.80" y1="371.44" x2="46.30" y2="371.44" stroke="#000" stroke-width="0.9"/>
<line x1="43.80" y1="367.24" x2="46.30" y2="367.24" stroke="#000" stroke-width="0.9"/>
<line x1="43.80" y1="364.27" x2="46.30" y2="364.27" stroke="#000" stroke-width="0.9"/>
<line x1="43.80" y1="361.96" x2="46.30" y2="361.96" stroke="#000" stroke-width="0.9"/>
<line x1="43.80" y1="360.08" x2="46.30" y2="360.08" stroke="#000" stroke-width="0.9"/>
<line x1="43.80" y1="358.49" x2="46.30" y2="358.49" stroke="#000" stroke-width="0.9"/>
<line x1="43.80" y1="357.11" x2="46.30" y2="357.11" stroke="#000" stroke-width="0.9"/>
<line x1="43.80" y1="355.89" x2="46.30" y2="355.89" stroke="#000" stroke-width="0.9"/>
<line x1="41.90" y1="354.80" x2="46.30" y2="354.80" stroke="#000" stroke-width="2.0"/>
<text x="40.0" y="358.6" font-family="'Liberation Sans', sans-serif" font-size="10.5" text-anchor="end" fill="#222" stroke="#222" stroke-width="0.12">1</text>
<line x1="43.80" y1="347.64" x2="46.30" y2="347.64" stroke="#000" stroke-width="0.9"/>
<line x1="43.80" y1="343.44" x2="46.30" y2="343.44" stroke="#000" stroke-width="0.9"/>
<line x1="43.80" y1="340.47" x2="46.30" y2="340.47" stroke="#000" stroke-width="0.9"/>
<line x1="43.80" y1="338.16" x2="46.30" y2="338.16" stroke="#000" stroke-width="0.9"/>
<line x1="43.80" y1="336.28" x2="46.30" y2="336.28" stroke="#000" stroke-width="0.9"/>
<line x1="43.80" y1="334.69" x2="46.30" y2="334.69" stroke="#000" stroke-width="0.9"/>
<line x1="43.80" y1="333.31" x2="46.30" y2="333.31" stroke="#000" stroke-width="0.9"/>
<line x1="43.80" y1="332.09" x2="46.30" y2="332.09" stroke="#000" stroke-width="0.9"/>
<line x1="41.90" y1="331.00" x2="46.30" y2="331.00" stroke="#000" stroke-width="2.0"/>
<text x="40.0" y="334.8" font-family="'Liberation Sans', sans-serif" font-size="10.5" text-anchor="end" fill="#222" stroke="#222" stroke-width="0.12">2</text>
<line x1="43.80" y1="323.84" x2="46.30" y2="323.84" stroke="#000" stroke-width="0.9"/>
<line x1="43.80" y1="319.64" x2="46.30" y2="319.64" stroke="#000" stroke-width="0.9"/>
<line x1="43.80" y1="316.67" x2="46.30" y2="316.67" stroke="#000" stroke-width="0.9"/>
<line x1="43.80" y1="314.36" x2="46.30" y2="314.36" stroke="#000" stroke-width="0.9"/>
<line x1="43.80" y1="312.48" x2="46.30" y2="312.48" stroke="#000" stroke-width="0.9"/>
<line x1="43.80" y1="310.89" x2="46.30" y2="310.89" stroke="#000" stroke-width="0.9"/>
<line x1="43.80" y1="309.51" x2="46.30" y2="309.51" stroke="#000" stroke-width="0.9"/>
<line x1="43.80" y1="308.29" x2="46.30" y2="308.29" stroke="#000" stroke-width="0.9"/>
<line x1="41.90" y1="307.20" x2="46.30" y2="307.20" stroke="#000" stroke-width="2.0"/>
<text x="40.0" y="311.0" font-family="'Liberation Sans', sans-serif" font-size="10.5" text-anchor="end" fill="#222" stroke="#222" stroke-width="0.12">3</text>
<line x1="43.80" y1="300.04" x2="46.30" y2="300.04" stroke="#000" stroke-width="0.9"/>
<line x1="43.80" y1="295.84" x2="46.30" y2="295.84" stroke="#000" stroke-width="0.9"/>
<line x1="43.80" y1="292.87" x2="46.30" y2="292.87" stroke="#000" stroke-width="0.9"/>
<line x1="43.80" y1="290.56" x2="46.30" y2="290.56" stroke="#000" stroke-width="0.9"/>
<line x1="43.80" y1="288.68" x2="46.30" y2="288.68" stroke="#000" stroke-width="0.9"/>
<line x1="43.80" y1="287.09" x2="46.30" y2="287.09" stroke="#000" stroke-width="0.9"/>
<line x1="43.80" y1="285.71" x2="46.30" y2="285.71" stroke="#000" stroke-width="0.9"/>
<line x1="43.80" y1="284.49" x2="46.30" y2="284.49" stroke="#000" stroke-width="0.9"/>
<line x1="41.90" y1="283.40" x2="46.30" y2="283.40" stroke="#000" stroke-width="2.0"/>
<text x="40.0" y="287.2" font-family="'Liberation Sans', sans-serif" font-size="10.5" text-anchor="end" fill="#222" stroke="#222" stroke-width="0.12">4</text>
<line x1="43.80" y1="276.24" x2="46.30" y2="276.24" stroke="#000" stroke-width="0.9"/>
<line x1="43.80" y1="272.04" x2="46.30" y2="272.04" stroke="#000" stroke-width="0.9"/>
<line x1="43.80" y1="269.07" x2="46.30" y2="269.07" stroke="#000" stroke-width="0.9"/>
<line x1="43.80" y1="266.76" x2="46.30" y2="266.76" stroke="#000" stroke-width="0.9"/>
<line x1="43.80" y1="264.88" x2="46.30" y2="264.88" stroke="#000" stroke-width="0.9"/>
<line x1="43.80" y1="263.29" x2="46.30" y2="263.29" stroke="#000" stroke-width="0.9"/>
<line x1="43.80" y1="261.91" x2="46.30" y2="261.91" stroke="#000" stroke-width="0.9"/>
<line x1="43.80" y1="260.69" x2="46.30" y2="260.69" stroke="#000" stroke-width="0.9"/>
<line x1="41.90" y1="259.60" x2="46.30" y2="259.60" stroke="#000" stroke-width="2.0"/>
<text x="40.0" y="263.4" font-family="'Liberation Sans', sans-serif" font-size="10.5" text-anchor="end" fill="#222" stroke="#222" stroke-width="0.12">5</text>
<line x1="56.60" y1="378.60" x2="56.60" y2="383.10" stroke="#000" stroke-width="1.4"/>
<text transform="translate(59.10,391.20) rotate(-45)" font-family="'Liberation Sans', sans-serif" font-size="8.35" text-anchor="end" fill="#222" stroke="#222" stroke-width="0.12">Prime (2x Spikevax)</text>
<line x1="71.70" y1="378.60" x2="71.70" y2="383.10" stroke="#000" stroke-width="1.4"/>
<text transform="translate(74.20,391.20) rotate(-45)" font-family="'Liberation Sans', sans-serif" font-size="8.35" text-anchor="end" fill="#222" stroke="#222" stroke-width="0.12">Boost ARVAC</text>
<line x1="92.00" y1="378.60" x2="92.00" y2="383.10" stroke="#000" stroke-width="1.4"/>
<text transform="translate(94.50,391.20) rotate(-45)" font-family="'Liberation Sans', sans-serif" font-size="8.35" text-anchor="end" fill="#222" stroke="#222" stroke-width="0.12">Prime (2x Spikevax)</text>
<line x1="107.00" y1="378.60" x2="107.00" y2="383.10" stroke="#000" stroke-width="1.4"/>
<text transform="translate(109.50,391.20) rotate(-45)" font-family="'Liberation Sans', sans-serif" font-size="8.35" text-anchor="end" fill="#222" stroke="#222" stroke-width="0.12">Boost ARVAC</text>
<line x1="127.20" y1="378.60" x2="127.20" y2="383.10" stroke="#000" stroke-width="1.4"/>
<text transform="translate(129.70,391.20) rotate(-45)" font-family="'Liberation Sans', sans-serif" font-size="8.35" text-anchor="end" fill="#222" stroke="#222" stroke-width="0.12">Prime (2x Spikevax)</text>
<line x1="142.50" y1="378.60" x2="142.50" y2="383.10" stroke="#000" stroke-width="1.4"/>
<text transform="translate(145.00,391.20) rotate(-45)" font-family="'Liberation Sans', sans-serif" font-size="8.35" text-anchor="end" fill="#222" stroke="#222" stroke-width="0.12">Boost ARVAC</text>
<line x1="162.90" y1="378.60" x2="162.90" y2="383.10" stroke="#000" stroke-width="1.4"/>
<text transform="translate(165.40,391.20) rotate(-45)" font-family="'Liberation Sans', sans-serif" font-size="8.35" text-anchor="end" fill="#222" stroke="#222" stroke-width="0.12">Prime (2x Spikevax)</text>
<line x1="178.00" y1="378.60" x2="178.00" y2="383.10" stroke="#000" stroke-width="1.4"/>
<text transform="translate(180.50,391.20) rotate(-45)" font-family="'Liberation Sans', sans-serif" font-size="8.35" text-anchor="end" fill="#222" stroke="#222" stroke-width="0.12">Boost ARVAC</text>
<line x1="198.40" y1="378.60" x2="198.40" y2="383.10" stroke="#000" stroke-width="1.4"/>
<text transform="translate(200.90,391.20) rotate(-45)" font-family="'Liberation Sans', sans-serif" font-size="8.35" text-anchor="end" fill="#222" stroke="#222" stroke-width="0.12">Prime (2x Spikevax)</text>
<line x1="213.10" y1="378.60" x2="213.10" y2="383.10" stroke="#000" stroke-width="1.4"/>
<text transform="translate(215.60,391.20) rotate(-45)" font-family="'Liberation Sans', sans-serif" font-size="8.35" text-anchor="end" fill="#222" stroke="#222" stroke-width="0.12">Boost Spikevax</text>
<text x="373.5" y="238.5" font-family="'Liberation Sans', sans-serif" font-size="12.4" font-weight="bold" text-anchor="middle" fill="#111" stroke="#111" stroke-width="0.15">Gamma</text>
<text transform="translate(257.0,319.1) rotate(-90)" font-family="'Liberation Sans', sans-serif" font-size="11.6" text-anchor="middle" fill="#222" stroke="#222" stroke-width="0.12">NT50 (log10)</text>
<line x1="287.00" y1="323.15" x2="287.00" y2="315.53" stroke="#e3a3a3" stroke-width="1.1"/>
<line x1="284.50" y1="315.53" x2="289.50" y2="315.53" stroke="#b41f1f" stroke-width="1.1"/>
<path d="M282.70 378.60 V323.15 H291.30 V378.60" fill="none" stroke="#b41f1f" stroke-width="1.5"/>
<circle cx="283.20" cy="314.90" r="2.15" fill="#000"/>
<circle cx="290.50" cy="315.60" r="2.15" fill="#000"/>
<circle cx="286.90" cy="318.80" r="2.15" fill="#000"/>
<circle cx="283.20" cy="330.50" r="2.15" fill="#000"/>
<circle cx="290.50" cy="329.80" r="2.15" fill="#000"/>
<circle cx="286.90" cy="328.30" r="2.15" fill="#000"/>
<line x1="302.00" y1="319.58" x2="302.00" y2="311.48" stroke="#e3a3a3" stroke-width="1.1"/>
<line x1="299.50" y1="311.48" x2="304.50" y2="311.48" stroke="#b41f1f" stroke-width="1.1"/>
<path d="M297.70 378.60 V319.58 H306.30 V378.60" fill="none" stroke="#b41f1f" stroke-width="1.5"/>
<circle cx="302.20" cy="309.00" r="2.15" fill="#000"/>
<circle cx="301.50" cy="312.00" r="2.15" fill="#000"/>
<circle cx="298.30" cy="319.90" r="2.15" fill="#000"/>
<circle cx="306.20" cy="317.40" r="2.15" fill="#000"/>
<circle cx="306.20" cy="322.00" r="2.15" fill="#000"/>
<circle cx="302.20" cy="328.60" r="2.15" fill="#000"/>
<text x="301.5" y="303.0" font-family="'Liberation Sans', sans-serif" font-size="8.3" text-anchor="middle" fill="#222">1.5x</text>
<line x1="322.20" y1="323.86" x2="322.20" y2="317.43" stroke="#9fd39f" stroke-width="1.1"/>
<line x1="319.70" y1="317.43" x2="324.70" y2="317.43" stroke="#2f952f" stroke-width="1.1"/>
<path d="M317.90 378.60 V323.86 H326.50 V378.60" fill="none" stroke="#2f952f" stroke-width="1.5"/>
<circle cx="322.20" cy="315.60" r="2.15" fill="#000"/>
<circle cx="318.60" cy="318.80" r="2.15" fill="#000"/>
<circle cx="322.20" cy="320.30" r="2.15" fill="#000"/>
<circle cx="318.60" cy="328.60" r="2.15" fill="#000"/>
<circle cx="322.20" cy="329.00" r="2.15" fill="#000"/>
<circle cx="325.90" cy="328.30" r="2.15" fill="#000"/>
<line x1="337.30" y1="303.63" x2="337.30" y2="286.26" stroke="#9fd39f" stroke-width="1.1"/>
<line x1="334.80" y1="286.26" x2="339.80" y2="286.26" stroke="#2f952f" stroke-width="1.1"/>
<path d="M333.00 378.60 V303.63 H341.60 V378.60" fill="none" stroke="#2f952f" stroke-width="1.5"/>
<circle cx="337.30" cy="283.10" r="2.15" fill="#000"/>
<circle cx="337.30" cy="288.60" r="2.15" fill="#000"/>
<circle cx="337.30" cy="299.90" r="2.15" fill="#000"/>
<circle cx="337.30" cy="305.30" r="2.15" fill="#000"/>
<circle cx="337.30" cy="314.00" r="2.15" fill="#000"/>
<circle cx="337.30" cy="330.50" r="2.15" fill="#000"/>
<text x="335.9" y="275.7" font-family="'Liberation Sans', sans-serif" font-size="8.3" text-anchor="middle" fill="#222">6.9x</text>
<line x1="357.50" y1="317.20" x2="357.50" y2="308.15" stroke="#9f9ff8" stroke-width="1.1"/>
<line x1="355.00" y1="308.15" x2="360.00" y2="308.15" stroke="#1f1ff5" stroke-width="1.1"/>
<path d="M353.20 378.60 V317.20 H361.80 V378.60" fill="none" stroke="#1f1ff5" stroke-width="1.5"/>
<circle cx="357.40" cy="305.00" r="2.15" fill="#000"/>
<circle cx="353.80" cy="315.90" r="2.15" fill="#000"/>
<circle cx="361.40" cy="316.20" r="2.15" fill="#000"/>
<circle cx="357.40" cy="315.90" r="2.15" fill="#000"/>
<circle cx="357.40" cy="318.80" r="2.15" fill="#000"/>
<circle cx="357.40" cy="331.50" r="2.15" fill="#000"/>
<line x1="372.60" y1="287.21" x2="372.60" y2="278.88" stroke="#9f9ff8" stroke-width="1.1"/>
<line x1="370.10" y1="278.88" x2="375.10" y2="278.88" stroke="#1f1ff5" stroke-width="1.1"/>
<path d="M368.30 378.60 V287.21 H376.90 V378.60" fill="none" stroke="#1f1ff5" stroke-width="1.5"/>
<circle cx="372.80" cy="277.30" r="2.15" fill="#000"/>
<circle cx="369.00" cy="286.60" r="2.15" fill="#000"/>
<circle cx="376.50" cy="286.60" r="2.15" fill="#000"/>
<circle cx="372.80" cy="293.00" r="2.15" fill="#000"/>
<path d="M357.20 284.20 V253.70 H373.30 V267.30" fill="none" stroke="#111" stroke-width="1.4"/>
<polygon points="365.25,245.30 366.36,247.78 369.05,248.06 367.04,249.88 367.60,252.54 365.25,251.18 362.90,252.54 363.46,249.88 361.45,248.06 364.14,247.78" fill="#000"/>
<text x="372.4" y="275.8" font-family="'Liberation Sans', sans-serif" font-size="8.3" text-anchor="middle" fill="#222">20.1x</text>
<line x1="393.20" y1="329.81" x2="393.20" y2="323.38" stroke="#c9a0dd" stroke-width="1.1"/>
<line x1="390.70" y1="323.38" x2="395.70" y2="323.38" stroke="#7a1fa5" stroke-width="1.1"/>
<path d="M388.90 378.60 V329.81 H397.50 V378.60" fill="none" stroke="#7a1fa5" stroke-width="1.5"/>
<circle cx="396.60" cy="321.10" r="2.15" fill="#000"/>
<circle cx="392.90" cy="323.80" r="2.15" fill="#000"/>
<circle cx="389.00" cy="328.00" r="2.15" fill="#000"/>
<circle cx="396.60" cy="328.60" r="2.15" fill="#000"/>
<circle cx="392.90" cy="330.70" r="2.15" fill="#000"/>
<circle cx="392.90" cy="336.70" r="2.15" fill="#000"/>
<line x1="408.00" y1="305.77" x2="408.00" y2="282.45" stroke="#c9a0dd" stroke-width="1.1"/>
<line x1="405.50" y1="282.45" x2="410.50" y2="282.45" stroke="#7a1fa5" stroke-width="1.1"/>
<path d="M403.70 378.60 V305.77 H412.30 V378.60" fill="none" stroke="#7a1fa5" stroke-width="1.5"/>
<circle cx="408.30" cy="278.10" r="2.15" fill="#000"/>
<circle cx="408.30" cy="293.50" r="2.15" fill="#000"/>
<circle cx="408.30" cy="298.60" r="2.15" fill="#000"/>
<circle cx="408.30" cy="323.20" r="2.15" fill="#000"/>
<circle cx="408.30" cy="335.10" r="2.15" fill="#000"/>
<path d="M392.10 279.80 V249.20 H407.80 V263.30" fill="none" stroke="#111" stroke-width="1.4"/>
<polygon points="399.95,241.30 401.06,243.78 403.75,244.06 401.74,245.88 402.30,248.54 399.95,247.18 397.60,248.54 398.16,245.88 396.15,244.06 398.84,243.78" fill="#000"/>
<text x="409.4" y="274.2" font-family="'Liberation Sans', sans-serif" font-size="8.3" text-anchor="middle" fill="#222">9.0x</text>
<line x1="428.20" y1="325.53" x2="428.20" y2="317.43" stroke="#999999" stroke-width="1.1"/>
<line x1="425.70" y1="317.43" x2="430.70" y2="317.43" stroke="#777" stroke-width="1.1"/>
<path d="M423.90 378.60 V325.53 H432.50 V378.60" fill="none" stroke="#111111" stroke-width="1.5"/>
<circle cx="428.20" cy="314.20" r="2.15" fill="#000"/>
<circle cx="428.20" cy="318.70" r="2.15" fill="#000"/>
<circle cx="428.20" cy="322.20" r="2.15" fill="#000"/>
<circle cx="428.20" cy="326.40" r="2.15" fill="#000"/>
<circle cx="428.20" cy="329.90" r="2.15" fill="#000"/>
<circle cx="428.20" cy="332.80" r="2.15" fill="#000"/>
<line x1="443.50" y1="303.39" x2="443.50" y2="278.88" stroke="#999999" stroke-width="1.1"/>
<line x1="441.00" y1="278.88" x2="446.00" y2="278.88" stroke="#777" stroke-width="1.1"/>
<path d="M439.20 378.60 V303.39 H447.80 V378.60" fill="none" stroke="#111111" stroke-width="1.5"/>
<circle cx="443.50" cy="280.10" r="2.15" fill="#000"/>
<circle cx="443.50" cy="283.70" r="2.15" fill="#000"/>
<circle cx="443.50" cy="293.00" r="2.15" fill="#000"/>
<circle cx="443.50" cy="321.60" r="2.15" fill="#000"/>
<circle cx="443.50" cy="335.10" r="2.15" fill="#000"/>
<text x="443.1" y="275.8" font-family="'Liberation Sans', sans-serif" font-size="8.3" text-anchor="middle" fill="#222">8.6x</text>
<line x1="275.60" y1="258.70" x2="275.60" y2="379.50" stroke="#000" stroke-width="1.8"/>
<line x1="274.70" y1="378.60" x2="456.00" y2="378.60" stroke="#000" stroke-width="1.8"/>
<line x1="271.20" y1="378.60" x2="275.60" y2="378.60" stroke="#000" stroke-width="2.0"/>
<text x="269.3" y="382.4" font-family="'Liberation Sans', sans-serif" font-size="10.5" text-anchor="end" fill="#222" stroke="#222" stroke-width="0.12">0</text>
<line x1="273.10" y1="371.44" x2="275.60" y2="371.44" stroke="#000" stroke-width="0.9"/>
<line x1="273.10" y1="367.24" x2="275.60" y2="367.24" stroke="#000" stroke-width="0.9"/>
<line x1="273.10" y1="364.27" x2="275.60" y2="364.27" stroke="#000" stroke-width="0.9"/>
<line x1="273.10" y1="361.96" x2="275.60" y2="361.96" stroke="#000" stroke-width="0.9"/>
<line x1="273.10" y1="360.08" x2="275.60" y2="360.08" stroke="#000" stroke-width="0.9"/>
<line x1="273.10" y1="358.49" x2="275.60" y2="358.49" stroke="#000" stroke-width="0.9"/>
<line x1="273.10" y1="357.11" x2="275.60" y2="357.11" stroke="#000" stroke-width="0.9"/>
<line x1="273.10" y1="355.89" x2="275.60" y2="355.89" stroke="#000" stroke-width="0.9"/>
<line x1="271.20" y1="354.80" x2="275.60" y2="354.80" stroke="#000" stroke-width="2.0"/>
<text x="269.3" y="358.6" font-family="'Liberation Sans', sans-serif" font-size="10.5" text-anchor="end" fill="#222" stroke="#222" stroke-width="0.12">1</text>
<line x1="273.10" y1="347.64" x2="275.60" y2="347.64" stroke="#000" stroke-width="0.9"/>
<line x1="273.10" y1="343.44" x2="275.60" y2="343.44" stroke="#000" stroke-width="0.9"/>
<line x1="273.10" y1="340.47" x2="275.60" y2="340.47" stroke="#000" stroke-width="0.9"/>
<line x1="273.10" y1="338.16" x2="275.60" y2="338.16" stroke="#000" stroke-width="0.9"/>
<line x1="273.10" y1="336.28" x2="275.60" y2="336.28" stroke="#000" stroke-width="0.9"/>
<line x1="273.10" y1="334.69" x2="275.60" y2="334.69" stroke="#000" stroke-width="0.9"/>
<line x1="273.10" y1="333.31" x2="275.60" y2="333.31" stroke="#000" stroke-width="0.9"/>
<line x1="273.10" y1="332.09" x2="275.60" y2="332.09" stroke="#000" stroke-width="0.9"/>
<line x1="271.20" y1="331.00" x2="275.60" y2="331.00" stroke="#000" stroke-width="2.0"/>
<text x="269.3" y="334.8" font-family="'Liberation Sans', sans-serif" font-size="10.5" text-anchor="end" fill="#222" stroke="#222" stroke-width="0.12">2</text>
<line x1="273.10" y1="323.84" x2="275.60" y2="323.84" stroke="#000" stroke-width="0.9"/>
<line x1="273.10" y1="319.64" x2="275.60" y2="319.64" stroke="#000" stroke-width="0.9"/>
<line x1="273.10" y1="316.67" x2="275.60" y2="316.67" stroke="#000" stroke-width="0.9"/>
<line x1="273.10" y1="314.36" x2="275.60" y2="314.36" stroke="#000" stroke-width="0.9"/>
<line x1="273.10" y1="312.48" x2="275.60" y2="312.48" stroke="#000" stroke-width="0.9"/>
<line x1="273.10" y1="310.89" x2="275.60" y2="310.89" stroke="#000" stroke-width="0.9"/>
<line x1="273.10" y1="309.51" x2="275.60" y2="309.51" stroke="#000" stroke-width="0.9"/>
<line x1="273.10" y1="308.29" x2="275.60" y2="308.29" stroke="#000" stroke-width="0.9"/>
<line x1="271.20" y1="307.20" x2="275.60" y2="307.20" stroke="#000" stroke-width="2.0"/>
<text x="269.3" y="311.0" font-family="'Liberation Sans', sans-serif" font-size="10.5" text-anchor="end" fill="#222" stroke="#222" stroke-width="0.12">3</text>
<line x1="273.10" y1="300.04" x2="275.60" y2="300.04" stroke="#000" stroke-width="0.9"/>
<line x1="273.10" y1="295.84" x2="275.60" y2="295.84" stroke="#000" stroke-width="0.9"/>
<line x1="273.10" y1="292.87" x2="275.60" y2="292.87" stroke="#000" stroke-width="0.9"/>
<line x1="273.10" y1="290.56" x2="275.60" y2="290.56" stroke="#000" stroke-width="0.9"/>
<line x1="273.10" y1="288.68" x2="275.60" y2="288.68" stroke="#000" stroke-width="0.9"/>
<line x1="273.10" y1="287.09" x2="275.60" y2="287.09" stroke="#000" stroke-width="0.9"/>
<line x1="273.10" y1="285.71" x2="275.60" y2="285.71" stroke="#000" stroke-width="0.9"/>
<line x1="273.10" y1="284.49" x2="275.60" y2="284.49" stroke="#000" stroke-width="0.9"/>
<line x1="271.20" y1="283.40" x2="275.60" y2="283.40" stroke="#000" stroke-width="2.0"/>
<text x="269.3" y="287.2" font-family="'Liberation Sans', sans-serif" font-size="10.5" text-anchor="end" fill="#222" stroke="#222" stroke-width="0.12">4</text>
<line x1="273.10" y1="276.24" x2="275.60" y2="276.24" stroke="#000" stroke-width="0.9"/>
<line x1="273.10" y1="272.04" x2="275.60" y2="272.04" stroke="#000" stroke-width="0.9"/>
<line x1="273.10" y1="269.07" x2="275.60" y2="269.07" stroke="#000" stroke-width="0.9"/>
<line x1="273.10" y1="266.76" x2="275.60" y2="266.76" stroke="#000" stroke-width="0.9"/>
<line x1="273.10" y1="264.88" x2="275.60" y2="264.88" stroke="#000" stroke-width="0.9"/>
<line x1="273.10" y1="263.29" x2="275.60" y2="263.29" stroke="#000" stroke-width="0.9"/>
<line x1="273.10" y1="261.91" x2="275.60" y2="261.91" stroke="#000" stroke-width="0.9"/>
<line x1="273.10" y1="260.69" x2="275.60" y2="260.69" stroke="#000" stroke-width="0.9"/>
<line x1="271.20" y1="259.60" x2="275.60" y2="259.60" stroke="#000" stroke-width="2.0"/>
<text x="269.3" y="263.4" font-family="'Liberation Sans', sans-serif" font-size="10.5" text-anchor="end" fill="#222" stroke="#222" stroke-width="0.12">5</text>
<line x1="287.00" y1="378.60" x2="287.00" y2="383.10" stroke="#000" stroke-width="1.4"/>
<text transform="translate(289.50,391.20) rotate(-45)" font-family="'Liberation Sans', sans-serif" font-size="8.35" text-anchor="end" fill="#222" stroke="#222" stroke-width="0.12">Prime (2x Spikevax)</text>
<line x1="302.00" y1="378.60" x2="302.00" y2="383.10" stroke="#000" stroke-width="1.4"/>
<text transform="translate(304.50,391.20) rotate(-45)" font-family="'Liberation Sans', sans-serif" font-size="8.35" text-anchor="end" fill="#222" stroke="#222" stroke-width="0.12">Boost ARVAC</text>
<line x1="322.20" y1="378.60" x2="322.20" y2="383.10" stroke="#000" stroke-width="1.4"/>
<text transform="translate(324.70,391.20) rotate(-45)" font-family="'Liberation Sans', sans-serif" font-size="8.35" text-anchor="end" fill="#222" stroke="#222" stroke-width="0.12">Prime (2x Spikevax)</text>
<line x1="337.30" y1="378.60" x2="337.30" y2="383.10" stroke="#000" stroke-width="1.4"/>
<text transform="translate(339.80,391.20) rotate(-45)" font-family="'Liberation Sans', sans-serif" font-size="8.35" text-anchor="end" fill="#222" stroke="#222" stroke-width="0.12">Boost ARVAC</text>
<line x1="357.50" y1="378.60" x2="357.50" y2="383.10" stroke="#000" stroke-width="1.4"/>
<text transform="translate(360.00,391.20) rotate(-45)" font-family="'Liberation Sans', sans-serif" font-size="8.35" text-anchor="end" fill="#222" stroke="#222" stroke-width="0.12">Prime (2x Spikevax)</text>
<line x1="372.60" y1="378.60" x2="372.60" y2="383.10" stroke="#000" stroke-width="1.4"/>
<text transform="translate(375.10,391.20) rotate(-45)" font-family="'Liberation Sans', sans-serif" font-size="8.35" text-anchor="end" fill="#222" stroke="#222" stroke-width="0.12">Boost ARVAC</text>
<line x1="393.20" y1="378.60" x2="393.20" y2="383.10" stroke="#000" stroke-width="1.4"/>
<text transform="translate(395.70,391.20) rotate(-45)" font-family="'Liberation Sans', sans-serif" font-size="8.35" text-anchor="end" fill="#222" stroke="#222" stroke-width="0.12">Prime (2x Spikevax)</text>
<line x1="408.00" y1="378.60" x2="408.00" y2="383.10" stroke="#000" stroke-width="1.4"/>
<text transform="translate(410.50,391.20) rotate(-45)" font-family="'Liberation Sans', sans-serif" font-size="8.35" text-anchor="end" fill="#222" stroke="#222" stroke-width="0.12">Boost ARVAC</text>
<line x1="428.20" y1="378.60" x2="428.20" y2="383.10" stroke="#000" stroke-width="1.4"/>
<text transform="translate(430.70,391.20) rotate(-45)" font-family="'Liberation Sans', sans-serif" font-size="8.35" text-anchor="end" fill="#222" stroke="#222" stroke-width="0.12">Prime (2x Spikevax)</text>
<line x1="443.50" y1="378.60" x2="443.50" y2="383.10" stroke="#000" stroke-width="1.4"/>
<text transform="translate(446.00,391.20) rotate(-45)" font-family="'Liberation Sans', sans-serif" font-size="8.35" text-anchor="end" fill="#222" stroke="#222" stroke-width="0.12">Boost Spikevax</text>
<text x="595.0" y="238.5" font-family="'Liberation Sans', sans-serif" font-size="12.4" font-weight="bold" text-anchor="middle" fill="#111" stroke="#111" stroke-width="0.15">Ancestral</text>
<text transform="translate(485.0,319.1) rotate(-90)" font-family="'Liberation Sans', sans-serif" font-size="11.6" text-anchor="middle" fill="#222" stroke="#222" stroke-width="0.12">NT50 (log10)</text>
<line x1="514.40" y1="322.91" x2="514.40" y2="311.01" stroke="#e3a3a3" stroke-width="1.1"/>
<line x1="511.90" y1="311.01" x2="516.90" y2="311.01" stroke="#b41f1f" stroke-width="1.1"/>
<path d="M510.10 378.60 V322.91 H518.70 V378.60" fill="none" stroke="#b41f1f" stroke-width="1.5"/>
<circle cx="510.90" cy="311.20" r="2.15" fill="#000"/>
<circle cx="518.20" cy="311.20" r="2.15" fill="#000"/>
<circle cx="514.50" cy="321.00" r="2.15" fill="#000"/>
<circle cx="510.90" cy="324.70" r="2.15" fill="#000"/>
<circle cx="518.20" cy="325.80" r="2.15" fill="#000"/>
<circle cx="514.50" cy="339.30" r="2.15" fill="#000"/>
<line x1="529.60" y1="319.10" x2="529.60" y2="316.24" stroke="#e3a3a3" stroke-width="1.1"/>
<line x1="527.10" y1="316.24" x2="532.10" y2="316.24" stroke="#b41f1f" stroke-width="1.1"/>
<path d="M525.30 378.60 V319.10 H533.90 V378.60" fill="none" stroke="#b41f1f" stroke-width="1.5"/>
<circle cx="525.80" cy="318.80" r="2.15" fill="#000"/>
<circle cx="529.40" cy="318.80" r="2.15" fill="#000"/>
<circle cx="533.10" cy="315.90" r="2.15" fill="#000"/>
<circle cx="533.10" cy="319.60" r="2.15" fill="#000"/>
<circle cx="527.70" cy="325.80" r="2.15" fill="#000"/>
<circle cx="531.30" cy="325.00" r="2.15" fill="#000"/>
<text x="530.3" y="309.6" font-family="'Liberation Sans', sans-serif" font-size="8.3" text-anchor="middle" fill="#222">1.2x</text>
<line x1="550.00" y1="321.00" x2="550.00" y2="312.20" stroke="#9fd39f" stroke-width="1.1"/>
<line x1="547.50" y1="312.20" x2="552.50" y2="312.20" stroke="#2f952f" stroke-width="1.1"/>
<path d="M545.70 378.60 V321.00 H554.30 V378.60" fill="none" stroke="#2f952f" stroke-width="1.5"/>
<circle cx="549.90" cy="310.10" r="2.15" fill="#000"/>
<circle cx="546.20" cy="316.60" r="2.15" fill="#000"/>
<circle cx="553.50" cy="316.60" r="2.15" fill="#000"/>
<circle cx="549.90" cy="320.00" r="2.15" fill="#000"/>
<circle cx="549.90" cy="325.40" r="2.15" fill="#000"/>
<circle cx="549.90" cy="334.20" r="2.15" fill="#000"/>
<line x1="564.90" y1="301.49" x2="564.90" y2="288.40" stroke="#9fd39f" stroke-width="1.1"/>
<line x1="562.40" y1="288.40" x2="567.40" y2="288.40" stroke="#2f952f" stroke-width="1.1"/>
<path d="M560.60 378.60 V301.49 H569.20 V378.60" fill="none" stroke="#2f952f" stroke-width="1.5"/>
<circle cx="561.20" cy="288.90" r="2.15" fill="#000"/>
<circle cx="565.20" cy="290.40" r="2.15" fill="#000"/>
<circle cx="568.80" cy="291.10" r="2.15" fill="#000"/>
<circle cx="565.20" cy="304.70" r="2.15" fill="#000"/>
<circle cx="565.20" cy="311.50" r="2.15" fill="#000"/>
<circle cx="565.20" cy="319.60" r="2.15" fill="#000"/>
<text x="566.2" y="283.5" font-family="'Liberation Sans', sans-serif" font-size="8.3" text-anchor="middle" fill="#222">6.5x</text>
<path d="M580.90 378.60 V313.86 H589.50 V378.60" fill="none" stroke="#1f1ff5" stroke-width="1.5"/>
<circle cx="581.40" cy="312.60" r="2.15" fill="#000"/>
<circle cx="585.40" cy="313.10" r="2.15" fill="#000"/>
<circle cx="589.10" cy="311.50" r="2.15" fill="#000"/>
<circle cx="581.40" cy="313.90" r="2.15" fill="#000"/>
<circle cx="589.10" cy="314.70" r="2.15" fill="#000"/>
<circle cx="585.40" cy="320.00" r="2.15" fill="#000"/>
<line x1="600.30" y1="282.69" x2="600.30" y2="271.02" stroke="#9f9ff8" stroke-width="1.1"/>
<line x1="597.80" y1="271.02" x2="602.80" y2="271.02" stroke="#1f1ff5" stroke-width="1.1"/>
<path d="M596.00 378.60 V282.69 H604.60 V378.60" fill="none" stroke="#1f1ff5" stroke-width="1.5"/>
<circle cx="596.70" cy="272.60" r="2.15" fill="#000"/>
<circle cx="603.90" cy="271.80" r="2.15" fill="#000"/>
<circle cx="600.40" cy="273.70" r="2.15" fill="#000"/>
<circle cx="600.40" cy="281.00" r="2.15" fill="#000"/>
<circle cx="600.40" cy="289.00" r="2.15" fill="#000"/>
<circle cx="600.40" cy="300.70" r="2.15" fill="#000"/>
<path d="M585.40 281.40 V250.40 H600.40 V256.90" fill="none" stroke="#111" stroke-width="1.4"/>
<polygon points="595.10,243.20 596.21,245.68 598.90,245.96 596.89,247.78 597.45,250.44 595.10,249.08 592.75,250.44 593.31,247.78 591.30,245.96 593.99,245.68" fill="#000"/>
<text x="600.1" y="268.9" font-family="'Liberation Sans', sans-serif" font-size="8.3" text-anchor="middle" fill="#222">24.6x</text>
<line x1="620.40" y1="324.34" x2="620.40" y2="319.10" stroke="#c9a0dd" stroke-width="1.1"/>
<line x1="617.90" y1="319.10" x2="622.90" y2="319.10" stroke="#7a1fa5" stroke-width="1.1"/>
<path d="M616.10 378.60 V324.34 H624.70 V378.60" fill="none" stroke="#7a1fa5" stroke-width="1.5"/>
<circle cx="616.80" cy="321.60" r="2.15" fill="#000"/>
<circle cx="620.40" cy="320.80" r="2.15" fill="#000"/>
<circle cx="624.00" cy="318.20" r="2.15" fill="#000"/>
<circle cx="624.00" cy="323.20" r="2.15" fill="#000"/>
<circle cx="620.40" cy="328.60" r="2.15" fill="#000"/>
<circle cx="618.40" cy="332.70" r="2.15" fill="#000"/>
<line x1="635.70" y1="293.87" x2="635.70" y2="281.26" stroke="#c9a0dd" stroke-width="1.1"/>
<line x1="633.20" y1="281.26" x2="638.20" y2="281.26" stroke="#7a1fa5" stroke-width="1.1"/>
<path d="M631.40 378.60 V293.87 H640.00 V378.60" fill="none" stroke="#7a1fa5" stroke-width="1.5"/>
<circle cx="632.00" cy="285.80" r="2.15" fill="#000"/>
<circle cx="639.20" cy="285.80" r="2.15" fill="#000"/>
<circle cx="635.70" cy="281.00" r="2.15" fill="#000"/>
<circle cx="635.70" cy="291.90" r="2.15" fill="#000"/>
<circle cx="635.70" cy="300.20" r="2.15" fill="#000"/>
<circle cx="635.70" cy="314.20" r="2.15" fill="#000"/>
<path d="M620.00 283.00 V252.50 H636.00 V266.50" fill="none" stroke="#111" stroke-width="1.4"/>
<polygon points="622.00,244.20 623.11,246.68 625.80,246.96 623.79,248.78 624.35,251.44 622.00,250.08 619.65,251.44 620.21,248.78 618.20,246.96 620.89,246.68" fill="#000"/>
<polygon points="632.40,244.20 633.51,246.68 636.20,246.96 634.19,248.78 634.75,251.44 632.40,250.08 630.05,251.44 630.61,248.78 628.60,246.96 631.29,246.68" fill="#000"/>
<text x="638.9" y="277.1" font-family="'Liberation Sans', sans-serif" font-size="8.3" text-anchor="middle" fill="#222">20x</text>
<line x1="656.00" y1="324.34" x2="656.00" y2="315.53" stroke="#999999" stroke-width="1.1"/>
<line x1="653.50" y1="315.53" x2="658.50" y2="315.53" stroke="#777" stroke-width="1.1"/>
<path d="M651.70 378.60 V324.34 H660.30 V378.60" fill="none" stroke="#111111" stroke-width="1.5"/>
<circle cx="655.80" cy="312.70" r="2.15" fill="#000"/>
<circle cx="655.80" cy="317.10" r="2.15" fill="#000"/>
<circle cx="652.10" cy="332.80" r="2.15" fill="#000"/>
<circle cx="659.60" cy="332.80" r="2.15" fill="#000"/>
<line x1="671.10" y1="292.21" x2="671.10" y2="281.26" stroke="#999999" stroke-width="1.1"/>
<line x1="668.60" y1="281.26" x2="673.60" y2="281.26" stroke="#777" stroke-width="1.1"/>
<path d="M666.80 378.60 V292.21 H675.40 V378.60" fill="none" stroke="#111111" stroke-width="1.5"/>
<circle cx="666.90" cy="282.60" r="2.15" fill="#000"/>
<circle cx="674.60" cy="282.10" r="2.15" fill="#000"/>
<circle cx="670.90" cy="282.60" r="2.15" fill="#000"/>
<circle cx="670.90" cy="288.20" r="2.15" fill="#000"/>
<circle cx="667.30" cy="305.50" r="2.15" fill="#000"/>
<circle cx="674.60" cy="305.50" r="2.15" fill="#000"/>
<path d="M655.30 284.60 V253.70 H670.90 V267.60" fill="none" stroke="#111" stroke-width="1.4"/>
<polygon points="663.10,246.50 664.21,248.98 666.90,249.26 664.89,251.08 665.45,253.74 663.10,252.38 660.75,253.74 661.31,251.08 659.30,249.26 661.99,248.98" fill="#000"/>
<text x="671.5" y="277.1" font-family="'Liberation Sans', sans-serif" font-size="8.3" text-anchor="middle" fill="#222">22.3x</text>
<line x1="503.60" y1="258.70" x2="503.60" y2="379.50" stroke="#000" stroke-width="1.8"/>
<line x1="502.70" y1="378.60" x2="685.00" y2="378.60" stroke="#000" stroke-width="1.8"/>
<line x1="499.20" y1="378.60" x2="503.60" y2="378.60" stroke="#000" stroke-width="2.0"/>
<text x="497.3" y="382.4" font-family="'Liberation Sans', sans-serif" font-size="10.5" text-anchor="end" fill="#222" stroke="#222" stroke-width="0.12">0</text>
<line x1="501.10" y1="371.44" x2="503.60" y2="371.44" stroke="#000" stroke-width="0.9"/>
<line x1="501.10" y1="367.24" x2="503.60" y2="367.24" stroke="#000" stroke-width="0.9"/>
<line x1="501.10" y1="364.27" x2="503.60" y2="364.27" stroke="#000" stroke-width="0.9"/>
<line x1="501.10" y1="361.96" x2="503.60" y2="361.96" stroke="#000" stroke-width="0.9"/>
<line x1="501.10" y1="360.08" x2="503.60" y2="360.08" stroke="#000" stroke-width="0.9"/>
<line x1="501.10" y1="358.49" x2="503.60" y2="358.49" stroke="#000" stroke-width="0.9"/>
<line x1="501.10" y1="357.11" x2="503.60" y2="357.11" stroke="#000" stroke-width="0.9"/>
<line x1="501.10" y1="355.89" x2="503.60" y2="355.89" stroke="#000" stroke-width="0.9"/>
<line x1="499.20" y1="354.80" x2="503.60" y2="354.80" stroke="#000" stroke-width="2.0"/>
<text x="497.3" y="358.6" font-family="'Liberation Sans', sans-serif" font-size="10.5" text-anchor="end" fill="#222" stroke="#222" stroke-width="0.12">1</text>
<line x1="501.10" y1="347.64" x2="503.60" y2="347.64" stroke="#000" stroke-width="0.9"/>
<line x1="501.10" y1="343.44" x2="503.60" y2="343.44" stroke="#000" stroke-width="0.9"/>
<line x1="501.10" y1="340.47" x2="503.60" y2="340.47" stroke="#000" stroke-width="0.9"/>
<line x1="501.10" y1="338.16" x2="503.60" y2="338.16" stroke="#000" stroke-width="0.9"/>
<line x1="501.10" y1="336.28" x2="503.60" y2="336.28" stroke="#000" stroke-width="0.9"/>
<line x1="501.10" y1="334.69" x2="503.60" y2="334.69" stroke="#000" stroke-width="0.9"/>
<line x1="501.10" y1="333.31" x2="503.60" y2="333.31" stroke="#000" stroke-width="0.9"/>
<line x1="501.10" y1="332.09" x2="503.60" y2="332.09" stroke="#000" stroke-width="0.9"/>
<line x1="499.20" y1="331.00" x2="503.60" y2="331.00" stroke="#000" stroke-width="2.0"/>
<text x="497.3" y="334.8" font-family="'Liberation Sans', sans-serif" font-size="10.5" text-anchor="end" fill="#222" stroke="#222" stroke-width="0.12">2</text>
<line x1="501.10" y1="323.84" x2="503.60" y2="323.84" stroke="#000" stroke-width="0.9"/>
<line x1="501.10" y1="319.64" x2="503.60" y2="319.64" stroke="#000" stroke-width="0.9"/>
<line x1="501.10" y1="316.67" x2="503.60" y2="316.67" stroke="#000" stroke-width="0.9"/>
<line x1="501.10" y1="314.36" x2="503.60" y2="314.36" stroke="#000" stroke-width="0.9"/>
<line x1="501.10" y1="312.48" x2="503.60" y2="312.48" stroke="#000" stroke-width="0.9"/>
<line x1="501.10" y1="310.89" x2="503.60" y2="310.89" stroke="#000" stroke-width="0.9"/>
<line x1="501.10" y1="309.51" x2="503.60" y2="309.51" stroke="#000" stroke-width="0.9"/>
<line x1="501.10" y1="308.29" x2="503.60" y2="308.29" stroke="#000" stroke-width="0.9"/>
<line x1="499.20" y1="307.20" x2="503.60" y2="307.20" stroke="#000" stroke-width="2.0"/>
<text x="497.3" y="311.0" font-family="'Liberation Sans', sans-serif" font-size="10.5" text-anchor="end" fill="#222" stroke="#222" stroke-width="0.12">3</text>
<line x1="501.10" y1="300.04" x2="503.60" y2="300.04" stroke="#000" stroke-width="0.9"/>
<line x1="501.10" y1="295.84" x2="503.60" y2="295.84" stroke="#000" stroke-width="0.9"/>
<line x1="501.10" y1="292.87" x2="503.60" y2="292.87" stroke="#000" stroke-width="0.9"/>
<line x1="501.10" y1="290.56" x2="503.60" y2="290.56" stroke="#000" stroke-width="0.9"/>
<line x1="501.10" y1="288.68" x2="503.60" y2="288.68" stroke="#000" stroke-width="0.9"/>
<line x1="501.10" y1="287.09" x2="503.60" y2="287.09" stroke="#000" stroke-width="0.9"/>
<line x1="501.10" y1="285.71" x2="503.60" y2="285.71" stroke="#000" stroke-width="0.9"/>
<line x1="501.10" y1="284.49" x2="503.60" y2="284.49" stroke="#000" stroke-width="0.9"/>
<line x1="499.20" y1="283.40" x2="503.60" y2="283.40" stroke="#000" stroke-width="2.0"/>
<text x="497.3" y="287.2" font-family="'Liberation Sans', sans-serif" font-size="10.5" text-anchor="end" fill="#222" stroke="#222" stroke-width="0.12">4</text>
<line x1="501.10" y1="276.24" x2="503.60" y2="276.24" stroke="#000" stroke-width="0.9"/>
<line x1="501.10" y1="272.04" x2="503.60" y2="272.04" stroke="#000" stroke-width="0.9"/>
<line x1="501.10" y1="269.07" x2="503.60" y2="269.07" stroke="#000" stroke-width="0.9"/>
<line x1="501.10" y1="266.76" x2="503.60" y2="266.76" stroke="#000" stroke-width="0.9"/>
<line x1="501.10" y1="264.88" x2="503.60" y2="264.88" stroke="#000" stroke-width="0.9"/>
<line x1="501.10" y1="263.29" x2="503.60" y2="263.29" stroke="#000" stroke-width="0.9"/>
<line x1="501.10" y1="261.91" x2="503.60" y2="261.91" stroke="#000" stroke-width="0.9"/>
<line x1="501.10" y1="260.69" x2="503.60" y2="260.69" stroke="#000" stroke-width="0.9"/>
<line x1="499.20" y1="259.60" x2="503.60" y2="259.60" stroke="#000" stroke-width="2.0"/>
<text x="497.3" y="263.4" font-family="'Liberation Sans', sans-serif" font-size="10.5" text-anchor="end" fill="#222" stroke="#222" stroke-width="0.12">5</text>
<line x1="514.40" y1="378.60" x2="514.40" y2="383.10" stroke="#000" stroke-width="1.4"/>
<text transform="translate(516.90,391.20) rotate(-45)" font-family="'Liberation Sans', sans-serif" font-size="8.35" text-anchor="end" fill="#222" stroke="#222" stroke-width="0.12">Prime (2x Spikevax)</text>
<line x1="529.60" y1="378.60" x2="529.60" y2="383.10" stroke="#000" stroke-width="1.4"/>
<text transform="translate(532.10,391.20) rotate(-45)" font-family="'Liberation Sans', sans-serif" font-size="8.35" text-anchor="end" fill="#222" stroke="#222" stroke-width="0.12">Boost ARVAC</text>
<line x1="550.00" y1="378.60" x2="550.00" y2="383.10" stroke="#000" stroke-width="1.4"/>
<text transform="translate(552.50,391.20) rotate(-45)" font-family="'Liberation Sans', sans-serif" font-size="8.35" text-anchor="end" fill="#222" stroke="#222" stroke-width="0.12">Prime (2x Spikevax)</text>
<line x1="564.90" y1="378.60" x2="564.90" y2="383.10" stroke="#000" stroke-width="1.4"/>
<text transform="translate(567.40,391.20) rotate(-45)" font-family="'Liberation Sans', sans-serif" font-size="8.35" text-anchor="end" fill="#222" stroke="#222" stroke-width="0.12">Boost ARVAC</text>
<line x1="585.20" y1="378.60" x2="585.20" y2="383.10" stroke="#000" stroke-width="1.4"/>
<text transform="translate(587.70,391.20) rotate(-45)" font-family="'Liberation Sans', sans-serif" font-size="8.35" text-anchor="end" fill="#222" stroke="#222" stroke-width="0.12">Prime (2x Spikevax)</text>
<line x1="600.30" y1="378.60" x2="600.30" y2="383.10" stroke="#000" stroke-width="1.4"/>
<text transform="translate(602.80,391.20) rotate(-45)" font-family="'Liberation Sans', sans-serif" font-size="8.35" text-anchor="end" fill="#222" stroke="#222" stroke-width="0.12">Boost ARVAC</text>
<line x1="620.40" y1="378.60" x2="620.40" y2="383.10" stroke="#000" stroke-width="1.4"/>
<text transform="translate(622.90,391.20) rotate(-45)" font-family="'Liberation Sans', sans-serif" font-size="8.35" text-anchor="end" fill="#222" stroke="#222" stroke-width="0.12">Prime (2x Spikevax)</text>
<line x1="635.70" y1="378.60" x2="635.70" y2="383.10" stroke="#000" stroke-width="1.4"/>
<text transform="translate(638.20,391.20) rotate(-45)" font-family="'Liberation Sans', sans-serif" font-size="8.35" text-anchor="end" fill="#222" stroke="#222" stroke-width="0.12">Boost ARVAC</text>
<line x1="656.00" y1="378.60" x2="656.00" y2="383.10" stroke="#000" stroke-width="1.4"/>
<text transform="translate(658.50,391.20) rotate(-45)" font-family="'Liberation Sans', sans-serif" font-size="8.35" text-anchor="end" fill="#222" stroke="#222" stroke-width="0.12">Prime (2x Spikevax)</text>
<line x1="671.10" y1="378.60" x2="671.10" y2="383.10" stroke="#000" stroke-width="1.4"/>
<text transform="translate(673.60,391.20) rotate(-45)" font-family="'Liberation Sans', sans-serif" font-size="8.35" text-anchor="end" fill="#222" stroke="#222" stroke-width="0.12">Boost Spikevax</text>
<text x="476.5" y="22.5" font-family="'Liberation Sans', sans-serif" font-size="10.3" fill="#222" stroke="#222" stroke-width="0.12">Boost:</text>
<rect x="474.8" y="36.1" width="14.5" height="4.2" fill="none" stroke="#b41f1f" stroke-width="1.5"/>
<rect x="474.8" y="50.0" width="14.5" height="4.2" fill="none" stroke="#2f952f" stroke-width="1.5"/>
<rect x="474.8" y="63.8" width="14.5" height="4.2" fill="none" stroke="#1f1ff5" stroke-width="1.5"/>
<rect x="474.8" y="77.7" width="14.5" height="4.2" fill="none" stroke="#7a1fa5" stroke-width="1.5"/>
<rect x="474.8" y="91.6" width="14.5" height="4.2" fill="none" stroke="#111111" stroke-width="1.5"/>
<text x="496" y="43.2" font-family="'Liberation Sans', sans-serif" font-size="10.3" fill="#222" stroke="#222" stroke-width="0.12">ARVAC XBB.1.5</text>
<text x="496" y="57.1" font-family="'Liberation Sans', sans-serif" font-size="10.3" fill="#222" stroke="#222" stroke-width="0.12">ARVAC Omicron BA.4/5</text>
<text x="496" y="70.9" font-family="'Liberation Sans', sans-serif" font-size="10.3" fill="#222" stroke="#222" stroke-width="0.12">ARVAC Gamma/Omicron BA.4/5</text>
<text x="496" y="84.8" font-family="'Liberation Sans', sans-serif" font-size="10.3" fill="#222" stroke="#222" stroke-width="0.12">ARVAC Gamma/XBB.1.5</text>
<text x="496" y="98.7" font-family="'Liberation Sans', sans-serif" font-size="10.3" fill="#222" stroke="#222" stroke-width="0.12">Spikevax Wuhan/Omicron BA.5</text>
<text transform="translate(1.0,15.5) scale(0.88,1)" font-family="'Liberation Sans', sans-serif" font-size="23.5" font-weight="bold" fill="#000" stroke="#000" stroke-width="0.15">a</text>
<text transform="translate(1.4,473.6) scale(0.92,1)" font-family="'Liberation Sans', sans-serif" font-size="22" font-weight="bold" fill="#000" stroke="#000" stroke-width="0.15">b</text>
<text transform="translate(6.8,823) scale(0.95,1)" font-family="'Liberation Sans', sans-serif" font-size="22.5" font-weight="bold" fill="#000" stroke="#000" stroke-width="0.15">c</text>
<rect x="31.60" y="458.80" width="210.80" height="166.60" fill="#fff" stroke="#4a4a4a" stroke-width="1.3" rx="1"/>
<text x="147.30" y="471.80" font-family="'Liberation Sans', sans-serif" font-size="10.0" font-weight="bold" text-anchor="middle" fill="#6a6a6a" stroke="#6a6a6a" stroke-width="0.15">Boost ARVAC &#160;XBB.1.5</text>
<polygon points="137.00,523.80 165.70,542.10 165.70,590.40 114.90,580.70 106.70,541.00" fill="#e9b08f" fill-opacity="1.00" stroke="none"/>
<polygon points="137.35,542.08 146.31,548.59 142.88,559.12 131.82,559.12 128.39,548.59" fill="none" stroke="#111" stroke-width="0.85" stroke-dasharray="2.2,1.0"/>
<polygon points="137.35,532.67 155.26,545.68 148.42,566.74 126.28,566.74 119.44,545.68" fill="none" stroke="#111" stroke-width="0.85" stroke-dasharray="2.2,1.0"/>
<polygon points="137.35,523.25 164.22,542.77 153.95,574.35 120.75,574.35 110.48,542.77" fill="none" stroke="#111" stroke-width="0.85" stroke-dasharray="2.2,1.0"/>
<polygon points="137.35,513.83 173.17,539.86 159.49,581.97 115.21,581.97 101.53,539.86" fill="none" stroke="#111" stroke-width="0.85" stroke-dasharray="2.2,1.0"/>
<polygon points="137.35,504.42 182.13,536.95 165.02,589.59 109.68,589.59 92.57,536.95" fill="none" stroke="#111" stroke-width="0.85" stroke-dasharray="2.2,1.0"/>
<polygon points="137.35,495.00 191.08,534.04 170.56,597.21 104.14,597.21 83.62,534.04" fill="none" stroke="#111" stroke-width="0.85" stroke-dasharray="2.2,1.0"/>
<polygon points="137.00,523.80 165.70,542.10 165.70,590.40 114.90,580.70 106.70,541.00" fill="none" stroke="#d4612a" stroke-width="0.9"/>
<polygon points="137.00,523.80 162.50,543.90 152.80,572.50 128.90,563.10 124.20,546.20" fill="#d4612a" stroke="none"/>
<text x="129.05" y="497.80" font-family="'Liberation Sans', sans-serif" font-size="7.8" text-anchor="end" fill="#505050" stroke="#505050" stroke-width="0.12">4</text>
<text x="129.05" y="507.22" font-family="'Liberation Sans', sans-serif" font-size="7.8" text-anchor="end" fill="#505050" stroke="#505050" stroke-width="0.12">4</text>
<text x="129.05" y="516.63" font-family="'Liberation Sans', sans-serif" font-size="7.8" text-anchor="end" fill="#505050" stroke="#505050" stroke-width="0.12">3</text>
<text x="129.05" y="526.05" font-family="'Liberation Sans', sans-serif" font-size="7.8" text-anchor="end" fill="#505050" stroke="#505050" stroke-width="0.12">3</text>
<text x="129.05" y="535.47" font-family="'Liberation Sans', sans-serif" font-size="7.8" text-anchor="end" fill="#505050" stroke="#505050" stroke-width="0.12">2</text>
<text x="129.05" y="544.88" font-family="'Liberation Sans', sans-serif" font-size="7.8" text-anchor="end" fill="#505050" stroke="#505050" stroke-width="0.12">2</text>
<text x="129.05" y="554.30" font-family="'Liberation Sans', sans-serif" font-size="7.8" text-anchor="end" fill="#505050" stroke="#505050" stroke-width="0.12">1</text>
<text x="137.35" y="489.80" font-family="'Liberation Sans', sans-serif" font-size="9" text-anchor="middle" fill="#111" stroke="#111" stroke-width="0.3">Ancestral</text>
<text x="193.58" y="536.64" font-family="'Liberation Sans', sans-serif" font-size="9" fill="#111" stroke="#111" stroke-width="0.3">Gamma</text>
<text x="78.62" y="536.84" font-family="'Liberation Sans', sans-serif" font-size="9" text-anchor="end" fill="#111" stroke="#111" stroke-width="0.3">JN.1</text>
<text x="103.33" y="602.21" font-family="'Liberation Sans', sans-serif" font-size="9" text-anchor="end" fill="#111" stroke="#111" stroke-width="0.3">XBB.1.18</text>
<text x="189.07" y="597.11" font-family="'Liberation Sans', sans-serif" font-size="9" text-anchor="middle" fill="#111" stroke="#111" stroke-width="0.3">Omicron</text>
<text x="188.77" y="607.11" font-family="'Liberation Sans', sans-serif" font-size="9" text-anchor="middle" fill="#111" stroke="#111" stroke-width="0.3">BA.5</text>
<rect x="115.00" y="610.20" width="5.3" height="5.3" fill="#d4612a"/>
<text x="122.20" y="615.90" font-family="'Liberation Sans', sans-serif" font-size="8.3" fill="#666">pre</text>
<rect x="139.80" y="610.20" width="5.3" height="5.3" fill="#e9b08f" fill-opacity="1.00" stroke="#d4612a" stroke-width="0.6"/>
<text x="147.00" y="615.90" font-family="'Liberation Sans', sans-serif" font-size="8.3" fill="#666">post</text>
<rect x="246.00" y="458.80" width="211.00" height="166.20" fill="#fff" stroke="#4a4a4a" stroke-width="1.3" rx="1"/>
<text x="355.00" y="471.80" font-family="'Liberation Sans', sans-serif" font-size="10.2" font-weight="bold" text-anchor="middle" fill="#6a6a6a" stroke="#6a6a6a" stroke-width="0.15">Boost ARVAC &#160;Omicron BA.4/5</text>
<polygon points="351.30,508.60 391.10,538.70 377.10,586.00 331.20,577.20 318.40,540.40" fill="#8dba78" fill-opacity="1.00" stroke="none"/>
<polygon points="351.75,542.08 360.71,548.59 357.28,559.12 346.22,559.12 342.79,548.59" fill="none" stroke="#111" stroke-width="0.85" stroke-dasharray="2.2,1.0"/>
<polygon points="351.75,532.67 369.66,545.68 362.82,566.74 340.68,566.74 333.84,545.68" fill="none" stroke="#111" stroke-width="0.85" stroke-dasharray="2.2,1.0"/>
<polygon points="351.75,523.25 378.62,542.77 368.35,574.35 335.15,574.35 324.88,542.77" fill="none" stroke="#111" stroke-width="0.85" stroke-dasharray="2.2,1.0"/>
<polygon points="351.75,513.83 387.57,539.86 373.89,581.97 329.61,581.97 315.93,539.86" fill="none" stroke="#111" stroke-width="0.85" stroke-dasharray="2.2,1.0"/>
<polygon points="351.75,504.42 396.53,536.95 379.42,589.59 324.08,589.59 306.97,536.95" fill="none" stroke="#111" stroke-width="0.85" stroke-dasharray="2.2,1.0"/>
<polygon points="351.75,495.00 405.48,534.04 384.96,597.21 318.54,597.21 298.02,534.04" fill="none" stroke="#111" stroke-width="0.85" stroke-dasharray="2.2,1.0"/>
<polygon points="351.30,508.60 391.10,538.70 377.10,586.00 331.20,577.20 318.40,540.40" fill="none" stroke="#468a26" stroke-width="0.9"/>
<polygon points="351.30,523.30 376.20,543.40 368.80,573.70 339.40,566.70 332.00,545.20" fill="#468a26" stroke="none"/>
<text x="343.45" y="497.80" font-family="'Liberation Sans', sans-serif" font-size="7.8" text-anchor="end" fill="#505050" stroke="#505050" stroke-width="0.12">4</text>
<text x="343.45" y="507.22" font-family="'Liberation Sans', sans-serif" font-size="7.8" text-anchor="end" fill="#505050" stroke="#505050" stroke-width="0.12">4</text>
<text x="343.45" y="516.63" font-family="'Liberation Sans', sans-serif" font-size="7.8" text-anchor="end" fill="#505050" stroke="#505050" stroke-width="0.12">3</text>
<text x="343.45" y="526.05" font-family="'Liberation Sans', sans-serif" font-size="7.8" text-anchor="end" fill="#505050" stroke="#505050" stroke-width="0.12">3</text>
<text x="343.45" y="535.47" font-family="'Liberation Sans', sans-serif" font-size="7.8" text-anchor="end" fill="#505050" stroke="#505050" stroke-width="0.12">2</text>
<text x="343.45" y="544.88" font-family="'Liberation Sans', sans-serif" font-size="7.8" text-anchor="end" fill="#505050" stroke="#505050" stroke-width="0.12">2</text>
<text x="343.45" y="554.30" font-family="'Liberation Sans', sans-serif" font-size="7.8" text-anchor="end" fill="#505050" stroke="#505050" stroke-width="0.12">1</text>
<text x="351.75" y="489.80" font-family="'Liberation Sans', sans-serif" font-size="9" text-anchor="middle" fill="#111" stroke="#111" stroke-width="0.3">Ancestral</text>
<text x="407.98" y="536.64" font-family="'Liberation Sans', sans-serif" font-size="9" fill="#111" stroke="#111" stroke-width="0.3">Gamma</text>
<text x="293.02" y="536.84" font-family="'Liberation Sans', sans-serif" font-size="9" text-anchor="end" fill="#111" stroke="#111" stroke-width="0.3">JN.1</text>
<text x="317.73" y="602.21" font-family="'Liberation Sans', sans-serif" font-size="9" text-anchor="end" fill="#111" stroke="#111" stroke-width="0.3">XBB.1.18</text>
<text x="403.47" y="597.11" font-family="'Liberation Sans', sans-serif" font-size="9" text-anchor="middle" fill="#111" stroke="#111" stroke-width="0.3">Omicron</text>
<text x="403.17" y="607.11" font-family="'Liberation Sans', sans-serif" font-size="9" text-anchor="middle" fill="#111" stroke="#111" stroke-width="0.3">BA.5</text>
<rect x="329.00" y="610.20" width="5.3" height="5.3" fill="#468a26"/>
<text x="336.20" y="615.90" font-family="'Liberation Sans', sans-serif" font-size="8.3" fill="#666">pre</text>
<rect x="353.80" y="610.20" width="5.3" height="5.3" fill="#8dba78" fill-opacity="1.00" stroke="#468a26" stroke-width="0.6"/>
<text x="361.00" y="615.90" font-family="'Liberation Sans', sans-serif" font-size="8.3" fill="#666">post</text>
<rect x="460.60" y="458.80" width="210.00" height="166.20" fill="#fff" stroke="#4a4a4a" stroke-width="1.3" rx="1"/>
<text x="563.60" y="471.80" font-family="'Liberation Sans', sans-serif" font-size="10.0" font-weight="bold" text-anchor="middle" fill="#6a6a6a" stroke="#6a6a6a" stroke-width="0.15">Boost ARVAC &#160;Gamma/ BA.4/5</text>
<polygon points="565.40,502.20 603.10,539.60 590.80,586.00 546.20,577.20 539.20,542.20" fill="#7aa8bb" fill-opacity="1.00" stroke="none"/>
<polygon points="565.70,542.08 574.66,548.59 571.23,559.12 560.17,559.12 556.74,548.59" fill="none" stroke="#111" stroke-width="0.85" stroke-dasharray="2.2,1.0"/>
<polygon points="565.70,532.67 583.61,545.68 576.77,566.74 554.63,566.74 547.79,545.68" fill="none" stroke="#111" stroke-width="0.85" stroke-dasharray="2.2,1.0"/>
<polygon points="565.70,523.25 592.57,542.77 582.30,574.35 549.10,574.35 538.83,542.77" fill="none" stroke="#111" stroke-width="0.85" stroke-dasharray="2.2,1.0"/>
<polygon points="565.70,513.83 601.52,539.86 587.84,581.97 543.56,581.97 529.88,539.86" fill="none" stroke="#111" stroke-width="0.85" stroke-dasharray="2.2,1.0"/>
<polygon points="565.70,504.42 610.48,536.95 593.37,589.59 538.03,589.59 520.92,536.95" fill="none" stroke="#111" stroke-width="0.85" stroke-dasharray="2.2,1.0"/>
<polygon points="565.70,495.00 619.43,534.04 598.91,597.21 532.49,597.21 511.97,534.04" fill="none" stroke="#111" stroke-width="0.85" stroke-dasharray="2.2,1.0"/>
<polygon points="565.40,502.20 603.10,539.60 590.80,586.00 546.20,577.20 539.20,542.20" fill="none" stroke="#2f6683" stroke-width="0.9"/>
<polygon points="565.40,527.30 585.90,545.70 580.00,570.70 557.90,560.90 551.40,546.60" fill="#2f6683" stroke="none"/>
<text x="557.40" y="497.80" font-family="'Liberation Sans', sans-serif" font-size="7.8" text-anchor="end" fill="#505050" stroke="#505050" stroke-width="0.12">4</text>
<text x="557.40" y="507.22" font-family="'Liberation Sans', sans-serif" font-size="7.8" text-anchor="end" fill="#505050" stroke="#505050" stroke-width="0.12">4</text>
<text x="557.40" y="516.63" font-family="'Liberation Sans', sans-serif" font-size="7.8" text-anchor="end" fill="#505050" stroke="#505050" stroke-width="0.12">3</text>
<text x="557.40" y="526.05" font-family="'Liberation Sans', sans-serif" font-size="7.8" text-anchor="end" fill="#505050" stroke="#505050" stroke-width="0.12">3</text>
<text x="557.40" y="535.47" font-family="'Liberation Sans', sans-serif" font-size="7.8" text-anchor="end" fill="#505050" stroke="#505050" stroke-width="0.12">2</text>
<text x="557.40" y="544.88" font-family="'Liberation Sans', sans-serif" font-size="7.8" text-anchor="end" fill="#505050" stroke="#505050" stroke-width="0.12">2</text>
<text x="557.40" y="554.30" font-family="'Liberation Sans', sans-serif" font-size="7.8" text-anchor="end" fill="#505050" stroke="#505050" stroke-width="0.12">1</text>
<text x="565.70" y="489.80" font-family="'Liberation Sans', sans-serif" font-size="9" text-anchor="middle" fill="#111" stroke="#111" stroke-width="0.3">Ancestral</text>
<text x="621.93" y="536.64" font-family="'Liberation Sans', sans-serif" font-size="9" fill="#111" stroke="#111" stroke-width="0.3">Gamma</text>
<text x="506.97" y="536.84" font-family="'Liberation Sans', sans-serif" font-size="9" text-anchor="end" fill="#111" stroke="#111" stroke-width="0.3">JN.1</text>
<text x="531.68" y="602.21" font-family="'Liberation Sans', sans-serif" font-size="9" text-anchor="end" fill="#111" stroke="#111" stroke-width="0.3">XBB.1.18</text>
<text x="617.42" y="597.11" font-family="'Liberation Sans', sans-serif" font-size="9" text-anchor="middle" fill="#111" stroke="#111" stroke-width="0.3">Omicron</text>
<text x="617.12" y="607.11" font-family="'Liberation Sans', sans-serif" font-size="9" text-anchor="middle" fill="#111" stroke="#111" stroke-width="0.3">BA.5</text>
<rect x="543.00" y="610.20" width="5.3" height="5.3" fill="#2f6683"/>
<text x="550.20" y="615.90" font-family="'Liberation Sans', sans-serif" font-size="8.3" fill="#666">pre</text>
<rect x="567.80" y="610.20" width="5.3" height="5.3" fill="#7aa8bb" fill-opacity="1.00" stroke="#2f6683" stroke-width="0.6"/>
<text x="575.00" y="615.90" font-family="'Liberation Sans', sans-serif" font-size="8.3" fill="#666">post</text>
<rect x="31.60" y="629.20" width="210.80" height="166.80" fill="#fff" stroke="#4a4a4a" stroke-width="1.3" rx="1"/>
<text x="144.60" y="641.50" font-family="'Liberation Sans', sans-serif" font-size="10.2" font-weight="bold" text-anchor="middle" fill="#6a6a6a" stroke="#6a6a6a" stroke-width="0.15">Boost ARVAC &#160;Gamma/XBB.1.5</text>
<polygon points="136.90,664.90 190.90,704.30 170.20,765.60 115.00,751.30 107.20,711.30" fill="#a86cb3" fill-opacity="1.00" stroke="none"/>
<polygon points="137.30,711.98 146.26,718.49 142.83,729.02 131.77,729.02 128.34,718.49" fill="none" stroke="#111" stroke-width="0.85" stroke-dasharray="2.2,1.0"/>
<polygon points="137.30,702.57 155.21,715.58 148.37,736.64 126.23,736.64 119.39,715.58" fill="none" stroke="#111" stroke-width="0.85" stroke-dasharray="2.2,1.0"/>
<polygon points="137.30,693.15 164.17,712.67 153.90,744.25 120.70,744.25 110.43,712.67" fill="none" stroke="#111" stroke-width="0.85" stroke-dasharray="2.2,1.0"/>
<polygon points="137.30,683.73 173.12,709.76 159.44,751.87 115.16,751.87 101.48,709.76" fill="none" stroke="#111" stroke-width="0.85" stroke-dasharray="2.2,1.0"/>
<polygon points="137.30,674.32 182.08,706.85 164.97,759.49 109.63,759.49 92.52,706.85" fill="none" stroke="#111" stroke-width="0.85" stroke-dasharray="2.2,1.0"/>
<polygon points="137.30,664.90 191.03,703.94 170.51,767.11 104.09,767.11 83.57,703.94" fill="none" stroke="#111" stroke-width="0.85" stroke-dasharray="2.2,1.0"/>
<polygon points="136.90,664.90 190.90,704.30 170.20,765.60 115.00,751.30 107.20,711.30" fill="none" stroke="#6c1e78" stroke-width="0.9"/>
<polygon points="136.90,689.40 166.40,711.30 156.20,746.40 121.70,742.00 121.70,716.30" fill="#6c1e78" stroke="none"/>
<text x="129.00" y="667.70" font-family="'Liberation Sans', sans-serif" font-size="7.8" text-anchor="end" fill="#505050" stroke="#505050" stroke-width="0.12">4</text>
<text x="129.00" y="677.12" font-family="'Liberation Sans', sans-serif" font-size="7.8" text-anchor="end" fill="#505050" stroke="#505050" stroke-width="0.12">3.5</text>
<text x="129.00" y="686.53" font-family="'Liberation Sans', sans-serif" font-size="7.8" text-anchor="end" fill="#505050" stroke="#505050" stroke-width="0.12">3</text>
<text x="129.00" y="695.95" font-family="'Liberation Sans', sans-serif" font-size="7.8" text-anchor="end" fill="#505050" stroke="#505050" stroke-width="0.12">2.5</text>
<text x="129.00" y="705.37" font-family="'Liberation Sans', sans-serif" font-size="7.8" text-anchor="end" fill="#505050" stroke="#505050" stroke-width="0.12">2</text>
<text x="129.00" y="714.78" font-family="'Liberation Sans', sans-serif" font-size="7.8" text-anchor="end" fill="#505050" stroke="#505050" stroke-width="0.12">1.5</text>
<text x="129.00" y="724.20" font-family="'Liberation Sans', sans-serif" font-size="7.8" text-anchor="end" fill="#505050" stroke="#505050" stroke-width="0.12">1</text>
<text x="137.30" y="659.70" font-family="'Liberation Sans', sans-serif" font-size="9" text-anchor="middle" fill="#111" stroke="#111" stroke-width="0.3">Ancestral</text>
<text x="193.53" y="706.54" font-family="'Liberation Sans', sans-serif" font-size="9" fill="#111" stroke="#111" stroke-width="0.3">Gamma</text>
<text x="78.57" y="706.74" font-family="'Liberation Sans', sans-serif" font-size="9" text-anchor="end" fill="#111" stroke="#111" stroke-width="0.3">JN.1</text>
<text x="103.28" y="772.11" font-family="'Liberation Sans', sans-serif" font-size="9" text-anchor="end" fill="#111" stroke="#111" stroke-width="0.3">XBB.1.18</text>
<text x="189.02" y="767.01" font-family="'Liberation Sans', sans-serif" font-size="9" text-anchor="middle" fill="#111" stroke="#111" stroke-width="0.3">Omicron</text>
<text x="188.72" y="777.01" font-family="'Liberation Sans', sans-serif" font-size="9" text-anchor="middle" fill="#111" stroke="#111" stroke-width="0.3">BA.5</text>
<rect x="115.00" y="780.20" width="5.3" height="5.3" fill="#6c1e78"/>
<text x="122.20" y="785.90" font-family="'Liberation Sans', sans-serif" font-size="8.3" fill="#666">pre</text>
<rect x="139.80" y="780.20" width="5.3" height="5.3" fill="#a86cb3" fill-opacity="1.00" stroke="#6c1e78" stroke-width="0.6"/>
<text x="147.00" y="785.90" font-family="'Liberation Sans', sans-serif" font-size="8.3" fill="#666">post</text>
<rect x="246.00" y="629.20" width="211.00" height="166.80" fill="#fff" stroke="#4a4a4a" stroke-width="1.3" rx="1"/>
<text x="352.80" y="641.00" font-family="'Liberation Sans', sans-serif" font-size="10.3" font-weight="bold" text-anchor="middle" fill="#6a6a6a" stroke="#6a6a6a" stroke-width="0.15">Boost Spikevax Wuhan/ BA.5</text>
<polygon points="351.40,669.30 395.20,706.90 383.50,762.10 330.90,750.20 316.00,709.60" fill="#a9a9a9" fill-opacity="1.00" stroke="none"/>
<polygon points="351.60,707.27 365.03,717.04 359.90,732.83 343.30,732.83 338.17,717.04" fill="none" stroke="#111" stroke-width="0.85" stroke-dasharray="2.2,1.0"/>
<polygon points="351.60,693.15 378.47,712.67 368.20,744.25 335.00,744.25 324.73,712.67" fill="none" stroke="#111" stroke-width="0.85" stroke-dasharray="2.2,1.0"/>
<polygon points="351.60,679.02 391.90,708.31 376.51,755.68 326.69,755.68 311.30,708.31" fill="none" stroke="#111" stroke-width="0.85" stroke-dasharray="2.2,1.0"/>
<polygon points="351.60,664.90 405.33,703.94 384.81,767.11 318.39,767.11 297.87,703.94" fill="none" stroke="#111" stroke-width="0.85" stroke-dasharray="2.2,1.0"/>
<polygon points="351.40,669.30 395.20,706.90 383.50,762.10 330.90,750.20 316.00,709.60" fill="none" stroke="#6e6e6e" stroke-width="0.9"/>
<polygon points="351.40,688.20 382.60,711.30 373.00,749.90 336.70,741.10 327.40,712.20" fill="#6e6e6e" stroke="none"/>
<text x="343.30" y="667.70" font-family="'Liberation Sans', sans-serif" font-size="7.8" text-anchor="end" fill="#505050" stroke="#505050" stroke-width="0.12">4</text>
<text x="343.30" y="681.82" font-family="'Liberation Sans', sans-serif" font-size="7.8" text-anchor="end" fill="#505050" stroke="#505050" stroke-width="0.12">3</text>
<text x="343.30" y="695.95" font-family="'Liberation Sans', sans-serif" font-size="7.8" text-anchor="end" fill="#505050" stroke="#505050" stroke-width="0.12">2</text>
<text x="343.30" y="710.07" font-family="'Liberation Sans', sans-serif" font-size="7.8" text-anchor="end" fill="#505050" stroke="#505050" stroke-width="0.12">1</text>
<text x="343.30" y="724.20" font-family="'Liberation Sans', sans-serif" font-size="7.8" text-anchor="end" fill="#505050" stroke="#505050" stroke-width="0.12">0</text>
<text x="351.60" y="659.70" font-family="'Liberation Sans', sans-serif" font-size="9" text-anchor="middle" fill="#111" stroke="#111" stroke-width="0.3">Ancestral</text>
<text x="407.83" y="706.54" font-family="'Liberation Sans', sans-serif" font-size="9" fill="#111" stroke="#111" stroke-width="0.3">Gamma</text>
<text x="292.87" y="706.74" font-family="'Liberation Sans', sans-serif" font-size="9" text-anchor="end" fill="#111" stroke="#111" stroke-width="0.3">JN.1</text>
<text x="317.58" y="772.11" font-family="'Liberation Sans', sans-serif" font-size="9" text-anchor="end" fill="#111" stroke="#111" stroke-width="0.3">XBB.1.18</text>
<text x="403.32" y="767.01" font-family="'Liberation Sans', sans-serif" font-size="9" text-anchor="middle" fill="#111" stroke="#111" stroke-width="0.3">Omicron</text>
<text x="403.02" y="777.01" font-family="'Liberation Sans', sans-serif" font-size="9" text-anchor="middle" fill="#111" stroke="#111" stroke-width="0.3">BA.5</text>
<rect x="329.00" y="780.20" width="5.3" height="5.3" fill="#6e6e6e"/>
<text x="336.20" y="785.90" font-family="'Liberation Sans', sans-serif" font-size="8.3" fill="#666">pre</text>
<rect x="353.80" y="780.20" width="5.3" height="5.3" fill="#a9a9a9" fill-opacity="1.00" stroke="#6e6e6e" stroke-width="0.6"/>
<text x="361.00" y="785.90" font-family="'Liberation Sans', sans-serif" font-size="8.3" fill="#666">post</text>
<rect x="29.80" y="828.60" width="247.00" height="210.40" fill="#fff"/>
<line x1="65.50" y1="828.60" x2="65.50" y2="1039.00" stroke="#f1f1f1" stroke-width="0.8"/>
<line x1="100.60" y1="828.60" x2="100.60" y2="1039.00" stroke="#f1f1f1" stroke-width="0.8"/>
<line x1="135.70" y1="828.60" x2="135.70" y2="1039.00" stroke="#f1f1f1" stroke-width="0.8"/>
<line x1="170.80" y1="828.60" x2="170.80" y2="1039.00" stroke="#f1f1f1" stroke-width="0.8"/>
<line x1="205.90" y1="828.60" x2="205.90" y2="1039.00" stroke="#f1f1f1" stroke-width="0.8"/>
<line x1="241.00" y1="828.60" x2="241.00" y2="1039.00" stroke="#f1f1f1" stroke-width="0.8"/>
<line x1="29.80" y1="863.67" x2="276.80" y2="863.67" stroke="#f1f1f1" stroke-width="0.8"/>
<line x1="29.80" y1="898.74" x2="276.80" y2="898.74" stroke="#f1f1f1" stroke-width="0.8"/>
<line x1="29.80" y1="933.81" x2="276.80" y2="933.81" stroke="#f1f1f1" stroke-width="0.8"/>
<line x1="29.80" y1="968.88" x2="276.80" y2="968.88" stroke="#f1f1f1" stroke-width="0.8"/>
<line x1="29.80" y1="1003.95" x2="276.80" y2="1003.95" stroke="#f1f1f1" stroke-width="0.8"/>
<rect x="29.80" y="828.60" width="247.00" height="210.40" fill="none" stroke="#d0d0d0" stroke-width="1"/>
<rect x="78.90" y="863.30" width="8.20" height="8.20" fill="none" stroke="#505050" stroke-width="1.0"/>
<rect x="141.90" y="862.10" width="8.20" height="8.20" fill="none" stroke="#c46cf0" stroke-width="1.0"/>
<rect x="217.20" y="862.80" width="8.20" height="8.20" fill="none" stroke="#505050" stroke-width="1.0"/>
<rect x="166.10" y="875.40" width="8.20" height="8.20" fill="none" stroke="#e8b44a" stroke-width="1.0"/>
<rect x="160.40" y="887.30" width="8.20" height="8.20" fill="none" stroke="#c46cf0" stroke-width="1.0"/>
<rect x="158.40" y="891.40" width="8.20" height="8.20" fill="none" stroke="#4646ec" stroke-width="1.0"/>
<rect x="154.70" y="899.60" width="8.20" height="8.20" fill="none" stroke="#e8b44a" stroke-width="1.0"/>
<rect x="158.00" y="899.60" width="8.20" height="8.20" fill="none" stroke="#58a058" stroke-width="1.0"/>
<rect x="214.40" y="891.80" width="8.20" height="8.20" fill="none" stroke="#e8b44a" stroke-width="1.0"/>
<rect x="211.50" y="901.20" width="8.20" height="8.20" fill="none" stroke="#58a058" stroke-width="1.0"/>
<rect x="213.20" y="903.70" width="8.20" height="8.20" fill="none" stroke="#c46cf0" stroke-width="1.0"/>
<rect x="212.30" y="904.50" width="8.20" height="8.20" fill="none" stroke="#505050" stroke-width="1.0"/>
<rect x="215.20" y="909.40" width="8.20" height="8.20" fill="none" stroke="#4646ec" stroke-width="1.0"/>
<rect x="221.30" y="912.20" width="8.20" height="8.20" fill="none" stroke="#58a058" stroke-width="1.0"/>
<rect x="183.30" y="906.70" width="8.20" height="8.20" fill="none" stroke="#e8b44a" stroke-width="1.0"/>
<rect x="142.50" y="922.90" width="8.20" height="8.20" fill="none" stroke="#505050" stroke-width="1.0"/>
<rect x="109.30" y="934.40" width="8.20" height="8.20" fill="none" stroke="#c46cf0" stroke-width="1.0"/>
<rect x="130.50" y="942.90" width="8.20" height="8.20" fill="none" stroke="#58a058" stroke-width="1.0"/>
<rect x="159.40" y="926.10" width="8.20" height="8.20" fill="none" stroke="#58a058" stroke-width="1.0"/>
<rect x="164.10" y="925.10" width="8.20" height="8.20" fill="none" stroke="#4646ec" stroke-width="1.0"/>
<rect x="180.50" y="925.10" width="8.20" height="8.20" fill="none" stroke="#e8b44a" stroke-width="1.0"/>
<rect x="180.00" y="926.50" width="8.20" height="8.20" fill="none" stroke="#4646ec" stroke-width="1.0"/>
<rect x="189.40" y="924.10" width="8.20" height="8.20" fill="none" stroke="#4646ec" stroke-width="1.0"/>
<rect x="211.90" y="922.70" width="8.20" height="8.20" fill="none" stroke="#c46cf0" stroke-width="1.0"/>
<rect x="224.20" y="925.10" width="8.20" height="8.20" fill="none" stroke="#e8b44a" stroke-width="1.0"/>
<rect x="173.70" y="916.90" width="8.20" height="8.20" fill="none" stroke="#505050" stroke-width="1.0"/>
<rect x="182.20" y="957.00" width="8.20" height="8.20" fill="none" stroke="#4646ec" stroke-width="1.0"/>
<rect x="73.70" y="996.50" width="8.20" height="8.20" fill="none" stroke="#c46cf0" stroke-width="1.0"/>
<circle cx="102.40" cy="882.90" r="7.30" fill="#bb4cf0" stroke="#555" stroke-width="0.5"/>
<text x="102.40" y="875.40" font-family="'Liberation Sans', sans-serif" font-size="5.4" text-anchor="middle" fill="#000" stroke="#000" stroke-width="0.12">JN.1</text>
<circle cx="185.00" cy="896.90" r="7.20" fill="#2323f0" stroke="#555" stroke-width="0.5"/>
<text x="185.00" y="890.00" font-family="'Liberation Sans', sans-serif" font-size="5.4" text-anchor="middle" fill="#000" stroke="#000" stroke-width="0.12">Gamma</text>
<rect x="178.40" y="893.90" width="8.20" height="8.20" fill="none" stroke="#505050" stroke-width="1.0"/>
<rect x="177.80" y="901.60" width="8.20" height="8.20" fill="none" stroke="#505050" stroke-width="1.0"/>
<circle cx="200.30" cy="904.30" r="7.20" fill="#f22a2a" stroke="#555" stroke-width="0.5"/>
<text x="200.80" y="897.50" font-family="'Liberation Sans', sans-serif" font-size="5.4" text-anchor="middle" fill="#000" stroke="#000" stroke-width="0.12">Ancestral</text>
<circle cx="186.00" cy="924.10" r="7.20" fill="#3c8a3c" stroke="#555" stroke-width="0.5"/>
<text x="186.00" y="917.10" font-family="'Liberation Sans', sans-serif" font-size="5.4" text-anchor="middle" fill="#000" stroke="#000" stroke-width="0.12">Omicron BA.5</text>
<rect x="180.50" y="925.10" width="8.20" height="8.20" fill="none" stroke="#e8b44a" stroke-width="1.0"/>
<circle cx="129.50" cy="970.50" r="7.30" fill="#eaae42" stroke="#555" stroke-width="0.5"/>
<text x="129.50" y="963.10" font-family="'Liberation Sans', sans-serif" font-size="5.4" text-anchor="middle" fill="#000" stroke="#000" stroke-width="0.12">XBB.1.18</text>
<text x="31.5" y="824.5" font-family="'Liberation Sans', sans-serif" font-size="11.35" font-weight="bold" fill="#111" stroke="#111" stroke-width="0.15">Pre-boost (2x Spikevax)</text>
<text x="377.3" y="824.5" font-family="'Liberation Sans', sans-serif" font-size="11.2" font-weight="bold" fill="#111" stroke="#111" stroke-width="0.15">Post-boost</text>
<rect x="375.30" y="828.40" width="187.40" height="210.80" fill="#fff"/>
<line x1="398.72" y1="828.40" x2="398.72" y2="1039.20" stroke="#f1f1f1" stroke-width="0.8"/>
<line x1="422.14" y1="828.40" x2="422.14" y2="1039.20" stroke="#f1f1f1" stroke-width="0.8"/>
<line x1="445.56" y1="828.40" x2="445.56" y2="1039.20" stroke="#f1f1f1" stroke-width="0.8"/>
<line x1="468.98" y1="828.40" x2="468.98" y2="1039.20" stroke="#f1f1f1" stroke-width="0.8"/>
<line x1="492.40" y1="828.40" x2="492.40" y2="1039.20" stroke="#f1f1f1" stroke-width="0.8"/>
<line x1="515.82" y1="828.40" x2="515.82" y2="1039.20" stroke="#f1f1f1" stroke-width="0.8"/>
<line x1="539.24" y1="828.40" x2="539.24" y2="1039.20" stroke="#f1f1f1" stroke-width="0.8"/>
<line x1="375.30" y1="851.82" x2="562.70" y2="851.82" stroke="#f1f1f1" stroke-width="0.8"/>
<line x1="375.30" y1="875.24" x2="562.70" y2="875.24" stroke="#f1f1f1" stroke-width="0.8"/>
<line x1="375.30" y1="898.66" x2="562.70" y2="898.66" stroke="#f1f1f1" stroke-width="0.8"/>
<line x1="375.30" y1="922.08" x2="562.70" y2="922.08" stroke="#f1f1f1" stroke-width="0.8"/>
<line x1="375.30" y1="945.50" x2="562.70" y2="945.50" stroke="#f1f1f1" stroke-width="0.8"/>
<line x1="375.30" y1="968.92" x2="562.70" y2="968.92" stroke="#f1f1f1" stroke-width="0.8"/>
<line x1="375.30" y1="992.34" x2="562.70" y2="992.34" stroke="#f1f1f1" stroke-width="0.8"/>
<line x1="375.30" y1="1015.76" x2="562.70" y2="1015.76" stroke="#f1f1f1" stroke-width="0.8"/>
<rect x="375.30" y="828.40" width="187.40" height="210.80" fill="none" stroke="#d0d0d0" stroke-width="1"/>
<rect x="452.30" y="881.20" width="8.20" height="8.20" fill="none" stroke="#e8b44a" stroke-width="1.0"/>
<rect x="508.40" y="900.80" width="8.20" height="8.20" fill="none" stroke="#e8b44a" stroke-width="1.0"/>
<rect x="458.20" y="902.30" width="8.20" height="8.20" fill="none" stroke="#e8b44a" stroke-width="1.0"/>
<rect x="460.80" y="903.10" width="8.20" height="8.20" fill="none" stroke="#58a058" stroke-width="1.0"/>
<rect x="458.50" y="914.50" width="8.20" height="8.20" fill="none" stroke="#505050" stroke-width="1.0"/>
<rect x="414.90" y="913.30" width="8.20" height="8.20" fill="none" stroke="#c46cf0" stroke-width="1.0"/>
<rect x="424.30" y="917.40" width="8.20" height="8.20" fill="none" stroke="#505050" stroke-width="1.0"/>
<rect x="436.00" y="916.30" width="8.20" height="8.20" fill="none" stroke="#58a058" stroke-width="1.0"/>
<rect x="433.10" y="919.80" width="8.20" height="8.20" fill="none" stroke="#4646ec" stroke-width="1.0"/>
<rect x="429.50" y="925.60" width="8.20" height="8.20" fill="none" stroke="#505050" stroke-width="1.0"/>
<rect x="414.40" y="925.00" width="8.20" height="8.20" fill="none" stroke="#58a058" stroke-width="1.0"/>
<rect x="439.50" y="927.90" width="8.20" height="8.20" fill="none" stroke="#4646ec" stroke-width="1.0"/>
<rect x="448.80" y="928.50" width="8.20" height="8.20" fill="none" stroke="#58a058" stroke-width="1.0"/>
<rect x="427.80" y="932.00" width="8.20" height="8.20" fill="none" stroke="#4646ec" stroke-width="1.0"/>
<rect x="403.30" y="935.80" width="8.20" height="8.20" fill="none" stroke="#c46cf0" stroke-width="1.0"/>
<rect x="405.90" y="936.40" width="8.20" height="8.20" fill="none" stroke="#505050" stroke-width="1.0"/>
<rect x="504.00" y="925.00" width="8.20" height="8.20" fill="none" stroke="#e8b44a" stroke-width="1.0"/>
<rect x="506.60" y="932.90" width="8.20" height="8.20" fill="none" stroke="#e8b44a" stroke-width="1.0"/>
<rect x="460.80" y="938.20" width="8.20" height="8.20" fill="none" stroke="#58a058" stroke-width="1.0"/>
<rect x="417.90" y="945.50" width="8.20" height="8.20" fill="none" stroke="#4646ec" stroke-width="1.0"/>
<rect x="432.50" y="943.70" width="8.20" height="8.20" fill="none" stroke="#c46cf0" stroke-width="1.0"/>
<rect x="492.00" y="944.30" width="8.20" height="8.20" fill="none" stroke="#e8b44a" stroke-width="1.0"/>
<rect x="500.20" y="942.00" width="8.20" height="8.20" fill="none" stroke="#58a058" stroke-width="1.0"/>
<rect x="521.50" y="941.10" width="8.20" height="8.20" fill="none" stroke="#c46cf0" stroke-width="1.0"/>
<rect x="462.50" y="960.60" width="8.20" height="8.20" fill="none" stroke="#c46cf0" stroke-width="1.0"/>
<rect x="483.30" y="968.20" width="8.20" height="8.20" fill="none" stroke="#505050" stroke-width="1.0"/>
<rect x="529.40" y="963.60" width="8.20" height="8.20" fill="none" stroke="#4646ec" stroke-width="1.0"/>
<rect x="534.70" y="971.20" width="8.20" height="8.20" fill="none" stroke="#505050" stroke-width="1.0"/>
<rect x="482.70" y="982.00" width="8.20" height="8.20" fill="none" stroke="#c46cf0" stroke-width="1.0"/>
<rect x="523.60" y="1002.10" width="8.20" height="8.20" fill="none" stroke="#4646ec" stroke-width="1.0"/>
<circle cx="483.30" cy="862.00" r="6.40" fill="#bb4cf0" stroke="#555" stroke-width="0.5"/>
<text x="483.30" y="855.20" font-family="'Liberation Sans', sans-serif" font-size="5.4" text-anchor="middle" fill="#000" stroke="#000" stroke-width="0.12">JN.1</text>
<circle cx="492.60" cy="872.20" r="6.40" fill="#eaae42" stroke="#555" stroke-width="0.5"/>
<text x="492.60" y="865.40" font-family="'Liberation Sans', sans-serif" font-size="5.4" text-anchor="middle" fill="#000" stroke="#000" stroke-width="0.12">XBB.1.18</text>
<circle cx="399.20" cy="906.40" r="6.40" fill="#2323f0" stroke="#555" stroke-width="0.5"/>
<text x="399.20" y="899.60" font-family="'Liberation Sans', sans-serif" font-size="5.4" text-anchor="middle" fill="#000" stroke="#000" stroke-width="0.12">Gamma</text>
<circle cx="477.40" cy="940.50" r="6.40" fill="#3c8a3c" stroke="#555" stroke-width="0.5"/>
<text x="477.60" y="933.80" font-family="'Liberation Sans', sans-serif" font-size="5.4" text-anchor="middle" fill="#000" stroke="#000" stroke-width="0.12">Omicron BA.5</text>
<circle cx="451.20" cy="952.50" r="6.40" fill="#f22a2a" stroke="#555" stroke-width="0.5"/>
<text x="451.20" y="945.70" font-family="'Liberation Sans', sans-serif" font-size="5.4" text-anchor="middle" fill="#000" stroke="#000" stroke-width="0.12">Ancestral</text>
<text x="289.9" y="845.8" font-family="'Liberation Sans', sans-serif" font-size="11.2" font-weight="bold" fill="#111" stroke="#111" stroke-width="0.15">Variant</text>
<circle cx="292.8" cy="859.20" r="3.2" fill="#f22a2a" stroke="#555" stroke-width="0.5"/>
<text x="304.8" y="863.40" font-family="'Liberation Sans', sans-serif" font-size="8.8" fill="#222" stroke="#222" stroke-width="0.12">Ancestral</text>
<circle cx="292.8" cy="872.62" r="3.2" fill="#2323f0" stroke="#555" stroke-width="0.5"/>
<text x="304.8" y="876.82" font-family="'Liberation Sans', sans-serif" font-size="8.8" fill="#222" stroke="#222" stroke-width="0.12">Gamma</text>
<circle cx="292.8" cy="886.04" r="3.2" fill="#3c8a3c" stroke="#555" stroke-width="0.5"/>
<text x="304.8" y="890.24" font-family="'Liberation Sans', sans-serif" font-size="8.8" fill="#222" stroke="#222" stroke-width="0.12">Omicron BA.5</text>
<circle cx="292.8" cy="899.46" r="3.2" fill="#eaae42" stroke="#555" stroke-width="0.5"/>
<text x="304.8" y="903.66" font-family="'Liberation Sans', sans-serif" font-size="8.8" fill="#222" stroke="#222" stroke-width="0.12">XBB 1.18</text>
<circle cx="292.8" cy="912.88" r="3.2" fill="#bb4cf0" stroke="#555" stroke-width="0.5"/>
<text x="304.8" y="917.08" font-family="'Liberation Sans', sans-serif" font-size="8.8" fill="#222" stroke="#222" stroke-width="0.12">JN.1</text>
<text x="32.4" y="1051" font-family="'Liberation Sans', sans-serif" font-size="11.2" font-weight="bold" fill="#111" stroke="#111" stroke-width="0.15">Boost vaccination groups</text>
<rect x="32.20" y="1060.2" width="6.4" height="6.4" fill="none" stroke="#111" stroke-width="1.0"/>
<text x="45.10" y="1066.6" font-family="'Liberation Sans', sans-serif" font-size="8.8" fill="#222" stroke="#222" stroke-width="0.12">ARVAC Gamma/BA.4/5</text>
<rect x="163.40" y="1060.2" width="6.4" height="6.4" fill="none" stroke="#4646ec" stroke-width="1.0"/>
<text x="176.00" y="1066.6" font-family="'Liberation Sans', sans-serif" font-size="8.8" fill="#222" stroke="#222" stroke-width="0.12">ARVAC Gamma/XBB 1.5</text>
<rect x="297.30" y="1060.2" width="6.4" height="6.4" fill="none" stroke="#58a058" stroke-width="1.0"/>
<text x="309.70" y="1066.6" font-family="'Liberation Sans', sans-serif" font-size="8.8" fill="#222" stroke="#222" stroke-width="0.12">ARVAC BA.4/5</text>
<rect x="399.10" y="1060.2" width="6.4" height="6.4" fill="none" stroke="#e8b44a" stroke-width="1.0"/>
<text x="411.50" y="1066.6" font-family="'Liberation Sans', sans-serif" font-size="8.8" fill="#222" stroke="#222" stroke-width="0.12">ARVAC XBB 1.5</text>
<rect x="499.80" y="1060.2" width="6.4" height="6.4" fill="none" stroke="#c46cf0" stroke-width="1.0"/>
<text x="511.90" y="1066.6" font-family="'Liberation Sans', sans-serif" font-size="8.8" fill="#222" stroke="#222" stroke-width="0.12">Spikevax</text>
</svg>
</body></html>
